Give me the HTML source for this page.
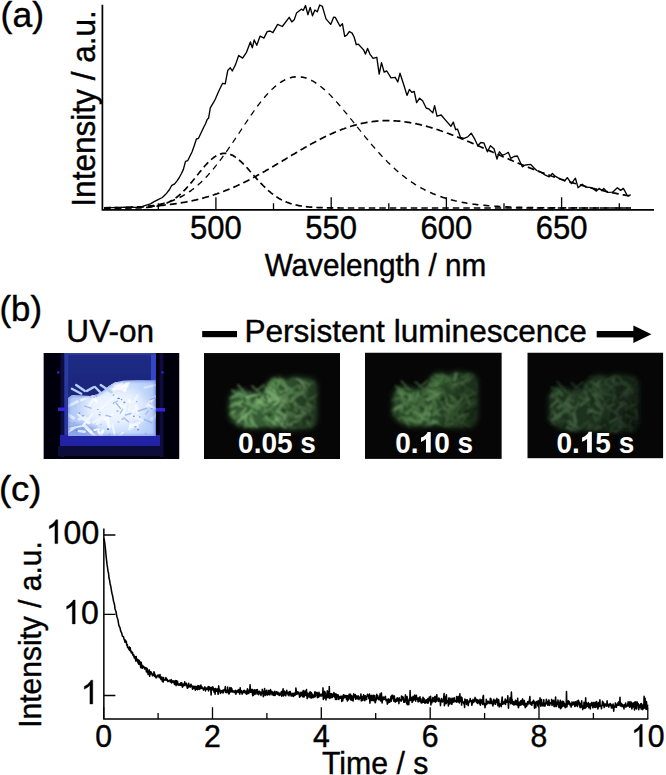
<!DOCTYPE html>
<html><head><meta charset="utf-8"><style>
html,body{margin:0;padding:0;background:#fff;width:666px;height:775px;overflow:hidden}
svg{display:block;font-family:"Liberation Sans",sans-serif}
</style></head><body>
<svg width="666" height="775" viewBox="0 0 666 775">
<defs>
<filter id="bl06" x="-20%" y="-20%" width="140%" height="140%"><feGaussianBlur stdDeviation="0.6"/></filter>
<filter id="bl07" x="-10%" y="-10%" width="120%" height="120%"><feGaussianBlur stdDeviation="0.7"/></filter>
<filter id="bl08" x="-10%" y="-10%" width="120%" height="120%"><feGaussianBlur stdDeviation="0.8"/></filter>
<filter id="bl09" x="-10%" y="-10%" width="120%" height="120%"><feGaussianBlur stdDeviation="0.9"/></filter>
<filter id="bl25" x="-20%" y="-20%" width="140%" height="140%"><feGaussianBlur stdDeviation="2.2"/></filter>
<linearGradient id="glass" x1="0" y1="0" x2="0" y2="1"><stop offset="0" stop-color="#202c86"/><stop offset="1" stop-color="#151f6c"/></linearGradient>
<filter id="bl20" x="-20%" y="-20%" width="140%" height="140%"><feGaussianBlur stdDeviation="2.0"/></filter>
<filter id="bl30" x="-30%" y="-30%" width="160%" height="160%"><feGaussianBlur stdDeviation="3.0"/></filter>
<linearGradient id="fadeR" x1="0" y1="0" x2="1" y2="0.3"><stop offset="0" stop-color="#000" stop-opacity="0"/><stop offset="1" stop-color="#000" stop-opacity="0.5"/></linearGradient>
<linearGradient id="pileV" x1="0" y1="0" x2="1" y2="0"><stop offset="0" stop-color="#7090e0" stop-opacity="0.25"/><stop offset="0.3" stop-color="#fff" stop-opacity="0.1"/><stop offset="0.7" stop-color="#fff" stop-opacity="0.1"/><stop offset="1" stop-color="#7090e0" stop-opacity="0.2"/></linearGradient>
<filter id="bl60" x="-50%" y="-50%" width="200%" height="200%"><feGaussianBlur stdDeviation="6"/></filter>
<filter id="bl05" x="-5%" y="-5%" width="110%" height="110%"><feGaussianBlur stdDeviation="0.5"/></filter>
<filter id="bl10" x="-10%" y="-10%" width="120%" height="120%"><feGaussianBlur stdDeviation="1.0"/></filter>
<clipPath id="cpr1"><rect x="43.4" y="353" width="136.1" height="106"/></clipPath>
<linearGradient id="sideL" x1="0" y1="0" x2="1" y2="0"><stop offset="0" stop-color="#07051a"/><stop offset="1" stop-color="#161060"/></linearGradient>
<linearGradient id="sideR" x1="0" y1="0" x2="1" y2="0"><stop offset="0" stop-color="#161060"/><stop offset="1" stop-color="#07051a"/></linearGradient>
<clipPath id="cp1"><path d="M68 398 L72 395 L80 395.5 L90 396 L97 394.5 L103 391 L109 386 L115 382.5 L123 380.8 L138 380.2 L155.5 380.5 L155.5 436 L68 436Z"/></clipPath>
</defs>
<rect width="666" height="775" fill="#fff"/>
<g transform="translate(0.60,26.60)" fill="#000" stroke="#000" stroke-width="0.4"><text x="0.00" y="0" font-size="35.5">(a)</text></g>
<text transform="translate(94.5,206.7) rotate(-90) scale(1,1.05)" font-size="31.6" stroke="#000" stroke-width="0.4">Intensity / a.u.</text>
<path d="M102.4 4.8V210.7M101.6 209.9H654" stroke="#000" stroke-width="1.7" fill="none"/>
<path d="M215.9 209V197.3M331.2 209V197.3M446.4 209V197.3M561.6 209V197.3M158.3 209V203.2M273.5 209V203.2M388.8 209V203.2M504.0 209V203.2M619.3 209V203.2" stroke="#000" stroke-width="1.3" fill="none"/>
<g transform="translate(190.04,239.00)" fill="#000" stroke="#000" stroke-width="0.4"><text x="0.00" y="0" font-size="31" transform="scale(1,1.06)">500</text></g>
<g transform="translate(305.29,239.00)" fill="#000" stroke="#000" stroke-width="0.4"><text x="0.00" y="0" font-size="31" transform="scale(1,1.06)">550</text></g>
<g transform="translate(420.54,239.00)" fill="#000" stroke="#000" stroke-width="0.4"><text x="0.00" y="0" font-size="31" transform="scale(1,1.06)">600</text></g>
<g transform="translate(535.79,239.00)" fill="#000" stroke="#000" stroke-width="0.4"><text x="0.00" y="0" font-size="31" transform="scale(1,1.06)">650</text></g>
<g transform="translate(264.68,275.60)" fill="#000" stroke="#000" stroke-width="0.4"><text x="0.00" y="0" font-size="29.7" transform="scale(1,1.05)">Wavelength / nm</text></g>
<path d="M104 208l1 0 1 0 1 0 1 0 1 0 1 0 1 0 1 0 1 0 1 0 1 0 1 0 1 0 1 0 1 0 1 0 1 0 1 0 1 0 1 0 1 0 1 0 1 0 1 0 1 0 1 -0.1 1 0 1 0 1 0 1 0 1 0 1 0 1 -0.1 1 0 1 0 1 0 1 -0.1 1 0 1 -0.1 1 0 1 -0.1 1 0 1 -0.1 1 -0.1 1 -0.1 1 -0.1 1 -0.1 1 -0.1 1 -0.2 1 -0.1 1 -0.2 1 -0.1 1 -0.2 1 -0.3 1 -0.2 1 -0.2 1 -0.3 1 -0.3 1 -0.3 1 -0.4 1 -0.3 1 -0.4 1 -0.4 1 -0.5 1 -0.5 1 -0.5 1 -0.5 1 -0.6 1 -0.6 1 -0.7 1 -0.7 1 -0.7 1 -0.7 1 -0.8 1 -0.9 1 -0.8 1 -0.9 1 -1 1 -0.9 1 -1 1 -1 1 -1.1 1 -1.1 1 -1.1 1 -1.1 1 -1.2 1 -1.2 1 -1.2 1 -1.2 1 -1.2 1 -1.3 1 -1.2 1 -1.3 1 -1.2 1 -1.3 1 -1.2 1 -1.2 1 -1.3 1 -1.1 1 -1.2 1 -1.2 1 -1.1 1 -1.1 1 -1 1 -1 1 -1 1 -0.9 1 -0.8 1 -0.8 1 -0.8 1 -0.7 1 -0.6 1 -0.6 1 -0.5 1 -0.4 1 -0.4 1 -0.3 1 -0.2 1 -0.2 1 -0.1 1 0 1 0.1 1 0.1 1 0.2 1 0.2 1 0.4 1 0.4 1 0.4 1 0.5 1 0.6 1 0.7 1 0.6 1 0.8 1 0.8 1 0.8 1 0.9 1 0.9 1 0.9 1 1 1 1 1 1.1 1 1 1 1.1 1 1.1 1 1.1 1 1.2 1 1.1 1 1.1 1 1.2 1 1.1 1 1.1 1 1.1 1 1.2 1 1.1 1 1.1 1 1 1 1.1 1 1 1 1.1 1 1 1 0.9 1 1 1 0.9 1 0.9 1 0.9 1 0.8 1 0.9 1 0.8 1 0.7 1 0.8 1 0.7 1 0.7 1 0.6 1 0.7 1 0.6 1 0.5 1 0.6 1 0.5 1 0.5 1 0.5 1 0.4 1 0.5 1 0.4 1 0.3 1 0.4 1 0.4 1 0.3 1 0.3 1 0.3 1 0.2 1 0.3 1 0.2 1 0.2 1 0.3 1 0.1 1 0.2 1 0.2 1 0.2 1 0.1 1 0.1 1 0.2 1 0.1 1 0.1 1 0.1 1 0.1 1 0.1 1 0 1 0.1 1 0.1 1 0.1 1 0 1 0.1 1 0 1 0.1 1 0 1 0 1 0.1 1 0 1 0 1 0.1 1 0 1 0 1 0 1 0 1 0.1 1 0 1 0 1 0 1 0 1 0 1 0 1 0 1 0 1 0 1 0 1 0.1 1 0 1 0 1 0 1 0 1 0 1 0 1 0 1 0 1 0 1 0 1 0 1 0 1 0 1 0 1 0 1 0 1 0 1 0 1 0 1 0 1 0 1 0 1 0 1 0 1 0 1 0 1 0 1 0 1 0 1 0 1 0 1 0 1 0 1 0 1 0 1 0 1 0 1 0 1 0 1 0 1 0 1 0 1 0 1 0 1 0 1 0 1 0 1 0 1 0 1 0 1 0 1 0 1 0 1 0 1 0 1 0 1 0 1 0 1 0 1 0 1 0 1 0 1 0 1 0 1 0 1 0 1 0 1 0 1 0 1 0 1 0 1 0 1 0 1 0 1 0 1 0 1 0 1 0 1 0 1 0 1 0 1 0 1 0 1 0 1 0 1 0 1 0 1 0 1 0 1 0 1 0 1 0 1 0 1 0 1 0 1 0 1 0 1 0 1 0 1 0 1 0 1 0 1 0 1 0 1 0 1 0 1 0 1 0 1 0 1 0 1 0 1 0 1 0 1 0 1 0 1 0 1 0 1 0 1 0 1 0 1 0 1 0 1 0 1 0 1 0 1 0 1 0 1 0 1 0 1 0 1 0 1 0 1 0 1 0 1 0 1 0 1 0 1 0 1 0 1 0 1 0 1 0 1 0 1 0 1 0 1 0 1 0 1 0 1 0 1 0 1 0 1 0 1 0 1 0 1 0 1 0 1 0 1 0 1 0 1 0 1 0 1 0 1 0 1 0 1 0 1 0 1 0 1 0 1 0 1 0 1 0 1 0 1 0 1 0 1 0 1 0 1 0 1 0 1 0 1 0 1 0 1 0 1 0 1 0 1 0 1 0 1 0 1 0 1 0 1 0 1 0 1 0 1 0 1 0 1 0 1 0 1 0 1 0 1 0 1 0 1 0 1 0 1 0 1 0 1 0 1 0 1 0 1 0 1 0 1 0 1 0 1 0 1 0 1 0 1 0 1 0 1 0 1 0 1 0 1 0 1 0 1 0 1 0 1 0 1 0 1 0 1 0 1 0 1 0 1 0 1 0 1 0 1 0 1 0 1 0 1 0 1 0 1 0 1 0 1 0 1 0 1 0 1 0 1 0 1 0 1 0 1 0 1 0 1 0 1 0 1 0 1 0 1 0 1 0 1 0 1 0 1 0 1 0 1 0 1 0 1 0 1 0 1 0 1 0 1 0 1 0 1 0 1 0 1 0 1 0 1 0 1 0 1 0 1 0 1 0 1 0 1 0 1 0 1 0 1 0 1 0 1 0 1 0 1 0 1 0 1 0 1 0 1 0 1 0 1 0 1 0" stroke="#000" stroke-width="1.7" fill="none" stroke-dasharray="6.5 4"/>
<path d="M104 207.9l1 0 1 0 1 0 1 0 1 0 1 0 1 0 1 0" stroke="#000" stroke-width="1.65" fill="none" stroke-dasharray="6 5" stroke-dashoffset="0.00"/>
<path d="M112 207.9l1 0 1 0 1 0 1 -0.1 1 0 1 0 1 0 1 0" stroke="#000" stroke-width="1.65" fill="none" stroke-dasharray="6 5" stroke-dashoffset="8.00"/>
<path d="M120 207.8l1 0 1 -0.1 1 0 1 0 1 0 1 -0.1 1 0 1 0" stroke="#000" stroke-width="1.65" fill="none" stroke-dasharray="6 5" stroke-dashoffset="16.00"/>
<path d="M128 207.6l1 -0.1 1 0 1 0 1 -0.1 1 0 1 -0.1 1 0 1 -0.1" stroke="#000" stroke-width="1.65" fill="none" stroke-dasharray="6 5" stroke-dashoffset="24.00"/>
<path d="M136 207.2l1 0 1 -0.1 1 -0.1 1 0 1 -0.1 1 -0.1 1 -0.1 1 -0.1" stroke="#000" stroke-width="1.65" fill="none" stroke-dasharray="6 5" stroke-dashoffset="32.01"/>
<path d="M144 206.6l1 -0.1 1 -0.1 1 -0.1 1 -0.1 1 -0.1 1 -0.1 1 -0.2 1 -0.1" stroke="#000" stroke-width="1.64" fill="none" stroke-dasharray="6 5" stroke-dashoffset="40.03"/>
<path d="M152 205.7l1 -0.2 1 -0.1 1 -0.2 1 -0.1 1 -0.2 1 -0.2 1 -0.2 1 -0.2" stroke="#000" stroke-width="1.63" fill="none" stroke-dasharray="6 5" stroke-dashoffset="48.09"/>
<path d="M160 204.3l1 -0.3 1 -0.2 1 -0.2 1 -0.3 1 -0.3 1 -0.2 1 -0.3 1 -0.3" stroke="#000" stroke-width="1.61" fill="none" stroke-dasharray="6 5" stroke-dashoffset="56.22"/>
<path d="M168 202.2l1 -0.4 1 -0.3 1 -0.4 1 -0.3 1 -0.4 1 -0.4 1 -0.4 1 -0.4" stroke="#000" stroke-width="1.58" fill="none" stroke-dasharray="6 5" stroke-dashoffset="64.50"/>
<path d="M176 199.2l1 -0.5 1 -0.4 1 -0.5 1 -0.5 1 -0.5 1 -0.6 1 -0.5 1 -0.6" stroke="#000" stroke-width="1.53" fill="none" stroke-dasharray="6 5" stroke-dashoffset="73.04"/>
<path d="M184 195.1l1 -0.6 1 -0.6 1 -0.6 1 -0.7 1 -0.6 1 -0.7 1 -0.7 1 -0.8" stroke="#000" stroke-width="1.47" fill="none" stroke-dasharray="6 5" stroke-dashoffset="82.01"/>
<path d="M192 189.8l1 -0.7 1 -0.8 1 -0.8 1 -0.8 1 -0.9 1 -0.8 1 -0.9 1 -0.9" stroke="#000" stroke-width="1.40" fill="none" stroke-dasharray="6 5" stroke-dashoffset="91.60"/>
<path d="M200 183.2l1 -0.9 1 -1 1 -1 1 -1 1 -1 1 -1 1 -1.1 1 -1.1" stroke="#000" stroke-width="1.35" fill="none" stroke-dasharray="6 5" stroke-dashoffset="102.01"/>
<path d="M208 175.1l1 -1.1 1 -1.1 1 -1.2 1 -1.1 1 -1.2 1 -1.2 1 -1.3 1 -1.2" stroke="#000" stroke-width="1.30" fill="none" stroke-dasharray="6 5" stroke-dashoffset="113.38"/>
<path d="M216 165.7l1 -1.3 1 -1.3 1 -1.3 1 -1.3 1 -1.3 1 -1.4 1 -1.4 1 -1.3" stroke="#000" stroke-width="1.27" fill="none" stroke-dasharray="6 5" stroke-dashoffset="125.75"/>
<path d="M224 155.1l1 -1.4 1 -1.5 1 -1.4 1 -1.4 1 -1.5 1 -1.4 1 -1.5 1 -1.5" stroke="#000" stroke-width="1.25" fill="none" stroke-dasharray="6 5" stroke-dashoffset="139.05"/>
<path d="M232 143.5l1 -1.4 1 -1.5 1 -1.5 1 -1.5 1 -1.5 1 -1.5 1 -1.5 1 -1.5" stroke="#000" stroke-width="1.23" fill="none" stroke-dasharray="6 5" stroke-dashoffset="153.07"/>
<path d="M240 131.6l1 -1.5 1 -1.6 1 -1.5 1 -1.5 1 -1.5 1 -1.4 1 -1.5 1 -1.5" stroke="#000" stroke-width="1.24" fill="none" stroke-dasharray="6 5" stroke-dashoffset="167.48"/>
<path d="M248 119.6l1 -1.5 1 -1.4 1 -1.5 1 -1.4 1 -1.4 1 -1.4 1 -1.4 1 -1.4" stroke="#000" stroke-width="1.25" fill="none" stroke-dasharray="6 5" stroke-dashoffset="181.87"/>
<path d="M256 108.2l1 -1.3 1 -1.4 1 -1.3 1 -1.3 1 -1.3 1 -1.2 1 -1.2 1 -1.2" stroke="#000" stroke-width="1.28" fill="none" stroke-dasharray="6 5" stroke-dashoffset="195.78"/>
<path d="M264 98l1 -1.2 1 -1.2 1 -1.1 1 -1.1 1 -1.1 1 -1 1 -1 1 -1" stroke="#000" stroke-width="1.33" fill="none" stroke-dasharray="6 5" stroke-dashoffset="208.80"/>
<path d="M272 89.3l1 -0.9 1 -0.9 1 -0.9 1 -0.8 1 -0.8 1 -0.8 1 -0.8 1 -0.7" stroke="#000" stroke-width="1.41" fill="none" stroke-dasharray="6 5" stroke-dashoffset="220.57"/>
<path d="M280 82.7l1 -0.6 1 -0.6 1 -0.6 1 -0.6 1 -0.5 1 -0.5 1 -0.4 1 -0.4" stroke="#000" stroke-width="1.52" fill="none" stroke-dasharray="6 5" stroke-dashoffset="230.94"/>
<path d="M288 78.5l1 -0.3 1 -0.4 1 -0.2 1 -0.3 1 -0.2 1 -0.1 1 -0.1 1 -0.1" stroke="#000" stroke-width="1.62" fill="none" stroke-dasharray="6 5" stroke-dashoffset="240.01"/>
<path d="M296 76.8l1 -0.1 1 0 1 0.1 1 0.1 1 0.1 1 0.1 1 0.2 1 0.2" stroke="#000" stroke-width="1.64" fill="none" stroke-dasharray="6 5" stroke-dashoffset="248.22"/>
<path d="M304 77.5l1 0.3 1 0.3 1 0.4 1 0.3 1 0.4 1 0.5 1 0.5 1 0.5" stroke="#000" stroke-width="1.57" fill="none" stroke-dasharray="6 5" stroke-dashoffset="256.29"/>
<path d="M312 80.7l1 0.5 1 0.6 1 0.6 1 0.7 1 0.6 1 0.7 1 0.8 1 0.7" stroke="#000" stroke-width="1.47" fill="none" stroke-dasharray="6 5" stroke-dashoffset="264.90"/>
<path d="M320 85.9l1 0.8 1 0.8 1 0.9 1 0.8 1 0.9 1 0.9 1 1 1 0.9" stroke="#000" stroke-width="1.39" fill="none" stroke-dasharray="6 5" stroke-dashoffset="274.48"/>
<path d="M328 92.9l1 1 1 1 1 1 1 1.1 1 1 1 1.1 1 1.1 1 1.1" stroke="#000" stroke-width="1.34" fill="none" stroke-dasharray="6 5" stroke-dashoffset="285.11"/>
<path d="M336 101.3l1 1.1 1 1.1 1 1.2 1 1.1 1 1.2 1 1.2 1 1.2 1 1.2" stroke="#000" stroke-width="1.30" fill="none" stroke-dasharray="6 5" stroke-dashoffset="296.69"/>
<path d="M344 110.6l1 1.2 1 1.2 1 1.2 1 1.3 1 1.2 1 1.2 1 1.3 1 1.2" stroke="#000" stroke-width="1.29" fill="none" stroke-dasharray="6 5" stroke-dashoffset="308.96"/>
<path d="M352 120.4l1 1.3 1 1.2 1 1.3 1 1.2 1 1.3 1 1.2 1 1.3 1 1.2" stroke="#000" stroke-width="1.28" fill="none" stroke-dasharray="6 5" stroke-dashoffset="321.64"/>
<path d="M360 130.4l1 1.2 1 1.3 1 1.2 1 1.2 1 1.3 1 1.2 1 1.2 1 1.2" stroke="#000" stroke-width="1.29" fill="none" stroke-dasharray="6 5" stroke-dashoffset="334.43"/>
<path d="M368 140.2l1 1.2 1 1.2 1 1.2 1 1.2 1 1.1 1 1.2 1 1.1 1 1.2" stroke="#000" stroke-width="1.30" fill="none" stroke-dasharray="6 5" stroke-dashoffset="347.08"/>
<path d="M376 149.6l1 1.1 1 1.1 1 1.1 1 1.1 1 1.1 1 1.1 1 1 1 1.1" stroke="#000" stroke-width="1.32" fill="none" stroke-dasharray="6 5" stroke-dashoffset="359.40"/>
<path d="M384 158.3l1 1 1 1 1 1.1 1 1 1 0.9 1 1 1 1 1 0.9" stroke="#000" stroke-width="1.35" fill="none" stroke-dasharray="6 5" stroke-dashoffset="371.23"/>
<path d="M392 166.2l1 1 1 0.9 1 0.9 1 0.9 1 0.9 1 0.8 1 0.9 1 0.8" stroke="#000" stroke-width="1.39" fill="none" stroke-dasharray="6 5" stroke-dashoffset="382.50"/>
<path d="M400 173.3l1 0.8 1 0.8 1 0.8 1 0.8 1 0.8 1 0.8 1 0.7 1 0.7" stroke="#000" stroke-width="1.42" fill="none" stroke-dasharray="6 5" stroke-dashoffset="393.19"/>
<path d="M408 179.5l1 0.7 1 0.7 1 0.7 1 0.7 1 0.7 1 0.6 1 0.7 1 0.6" stroke="#000" stroke-width="1.46" fill="none" stroke-dasharray="6 5" stroke-dashoffset="403.32"/>
<path d="M416 184.9l1 0.6 1 0.6 1 0.6 1 0.6 1 0.5 1 0.6 1 0.5 1 0.5" stroke="#000" stroke-width="1.50" fill="none" stroke-dasharray="6 5" stroke-dashoffset="412.96"/>
<path d="M424 189.4l1 0.6 1 0.5 1 0.4 1 0.5 1 0.5 1 0.5 1 0.4 1 0.4" stroke="#000" stroke-width="1.54" fill="none" stroke-dasharray="6 5" stroke-dashoffset="422.16"/>
<path d="M432 193.2l1 0.5 1 0.4 1 0.4 1 0.4 1 0.4 1 0.4 1 0.3 1 0.4" stroke="#000" stroke-width="1.57" fill="none" stroke-dasharray="6 5" stroke-dashoffset="431.02"/>
<path d="M440 196.4l1 0.3 1 0.4 1 0.3 1 0.3 1 0.3 1 0.4 1 0.3 1 0.2" stroke="#000" stroke-width="1.59" fill="none" stroke-dasharray="6 5" stroke-dashoffset="439.62"/>
<path d="M448 198.9l1 0.3 1 0.3 1 0.3 1 0.2 1 0.3 1 0.2 1 0.3 1 0.2" stroke="#000" stroke-width="1.61" fill="none" stroke-dasharray="6 5" stroke-dashoffset="448.02"/>
<path d="M456 201l1 0.2 1 0.2 1 0.3 1 0.2 1 0.2 1 0.2 1 0.2 1 0.1" stroke="#000" stroke-width="1.63" fill="none" stroke-dasharray="6 5" stroke-dashoffset="456.28"/>
<path d="M464 202.6l1 0.2 1 0.2 1 0.2 1 0.1 1 0.2 1 0.1 1 0.2 1 0.1" stroke="#000" stroke-width="1.63" fill="none" stroke-dasharray="6 5" stroke-dashoffset="464.45"/>
<path d="M472 203.9l1 0.2 1 0.1 1 0.1 1 0.2 1 0.1 1 0.1 1 0.1 1 0.1" stroke="#000" stroke-width="1.64" fill="none" stroke-dasharray="6 5" stroke-dashoffset="472.55"/>
<path d="M480 204.9l1 0.1 1 0.1 1 0.1 1 0.1 1 0.1 1 0.1 1 0.1 1 0.1" stroke="#000" stroke-width="1.64" fill="none" stroke-dasharray="6 5" stroke-dashoffset="480.61"/>
<path d="M488 205.7l1 0.1 1 0.1 1 0 1 0.1 1 0.1 1 0.1 1 0 1 0.1" stroke="#000" stroke-width="1.65" fill="none" stroke-dasharray="6 5" stroke-dashoffset="488.65"/>
<path d="M496 206.3l1 0.1 1 0 1 0.1 1 0 1 0.1 1 0 1 0.1 1 0" stroke="#000" stroke-width="1.65" fill="none" stroke-dasharray="6 5" stroke-dashoffset="496.67"/>
<path d="M504 206.7l1 0.1 1 0 1 0.1 1 0 1 0.1 1 0 1 0 1 0.1" stroke="#000" stroke-width="1.65" fill="none" stroke-dasharray="6 5" stroke-dashoffset="504.69"/>
<path d="M512 207.1l1 0 1 0.1 1 0 1 0 1 0 1 0.1 1 0 1 0" stroke="#000" stroke-width="1.65" fill="none" stroke-dasharray="6 5" stroke-dashoffset="512.69"/>
<path d="M520 207.3l1 0.1 1 0 1 0 1 0 1 0.1 1 0 1 0 1 0" stroke="#000" stroke-width="1.65" fill="none" stroke-dasharray="6 5" stroke-dashoffset="520.70"/>
<path d="M528 207.5l1 0 1 0.1 1 0 1 0 1 0 1 0 1 0 1 0.1" stroke="#000" stroke-width="1.65" fill="none" stroke-dasharray="6 5" stroke-dashoffset="528.70"/>
<path d="M536 207.7l1 0 1 0 1 0 1 0 1 0 1 0 1 0 1 0.1" stroke="#000" stroke-width="1.65" fill="none" stroke-dasharray="6 5" stroke-dashoffset="536.70"/>
<path d="M544 207.8l1 0 1 0 1 0 1 0 1 0 1 0 1 0 1 0" stroke="#000" stroke-width="1.65" fill="none" stroke-dasharray="6 5" stroke-dashoffset="544.70"/>
<path d="M552 207.8l1 0 1 0 1 0 1 0.1 1 0 1 0 1 0 1 0" stroke="#000" stroke-width="1.65" fill="none" stroke-dasharray="6 5" stroke-dashoffset="552.70"/>
<path d="M560 207.9l1 0 1 0 1 0 1 0 1 0 1 0 1 0 1 0" stroke="#000" stroke-width="1.65" fill="none" stroke-dasharray="6 5" stroke-dashoffset="560.70"/>
<path d="M568 207.9l1 0 1 0 1 0 1 0 1 0 1 0 1 0 1 0" stroke="#000" stroke-width="1.65" fill="none" stroke-dasharray="6 5" stroke-dashoffset="568.70"/>
<path d="M576 207.9l1 0 1 0 1 0 1 0 1 0.1 1 0 1 0 1 0" stroke="#000" stroke-width="1.65" fill="none" stroke-dasharray="6 5" stroke-dashoffset="576.70"/>
<path d="M584 208l1 0 1 0 1 0 1 0 1 0 1 0 1 0 1 0" stroke="#000" stroke-width="1.65" fill="none" stroke-dasharray="6 5" stroke-dashoffset="584.70"/>
<path d="M592 208l1 0 1 0 1 0 1 0 1 0 1 0 1 0 1 0" stroke="#000" stroke-width="1.65" fill="none" stroke-dasharray="6 5" stroke-dashoffset="592.70"/>
<path d="M600 208l1 0 1 0 1 0 1 0 1 0 1 0 1 0 1 0" stroke="#000" stroke-width="1.65" fill="none" stroke-dasharray="6 5" stroke-dashoffset="600.70"/>
<path d="M608 208l1 0 1 0 1 0 1 0 1 0 1 0 1 0 1 0" stroke="#000" stroke-width="1.65" fill="none" stroke-dasharray="6 5" stroke-dashoffset="608.70"/>
<path d="M616 208l1 0 1 0 1 0 1 0 1 0 1 0 1 0 1 0" stroke="#000" stroke-width="1.65" fill="none" stroke-dasharray="6 5" stroke-dashoffset="616.70"/>
<path d="M624 208l1 0 1 0 1 0 1 0 1 0 1 0 1 0" stroke="#000" stroke-width="1.65" fill="none" stroke-dasharray="6 5" stroke-dashoffset="624.70"/>
<path d="M104 207.8l1 0 1 0 1 0 1 0 1 0 1 -0.1 1 0 1 0 1 0 1 0 1 0 1 0 1 -0.1 1 0 1 0 1 0 1 0 1 -0.1 1 0 1 0 1 0 1 -0.1 1 0 1 0 1 -0.1 1 0 1 0 1 -0.1 1 0 1 0 1 -0.1 1 0 1 -0.1 1 0 1 0 1 -0.1 1 0 1 -0.1 1 0 1 -0.1 1 0 1 -0.1 1 -0.1 1 0 1 -0.1 1 -0.1 1 0 1 -0.1 1 -0.1 1 0 1 -0.1 1 -0.1 1 -0.1 1 -0.1 1 -0.1 1 -0.1 1 0 1 -0.1 1 -0.1 1 -0.2 1 -0.1 1 -0.1 1 -0.1 1 -0.1 1 -0.1 1 -0.1 1 -0.2 1 -0.1 1 -0.1 1 -0.2 1 -0.1 1 -0.2 1 -0.1 1 -0.2 1 -0.1 1 -0.2 1 -0.1 1 -0.2 1 -0.2 1 -0.2 1 -0.1 1 -0.2 1 -0.2 1 -0.2 1 -0.2 1 -0.2 1 -0.2 1 -0.2 1 -0.3 1 -0.2 1 -0.2 1 -0.2 1 -0.3 1 -0.2 1 -0.3 1 -0.2 1 -0.3 1 -0.2 1 -0.3 1 -0.3 1 -0.3 1 -0.3 1 -0.2 1 -0.3 1 -0.3 1 -0.3 1 -0.4 1 -0.3 1 -0.3 1 -0.3 1 -0.4 1 -0.3 1 -0.3 1 -0.4 1 -0.3 1 -0.4 1 -0.4 1 -0.3 1 -0.4 1 -0.4 1 -0.4 1 -0.4 1 -0.4 1 -0.4 1 -0.4 1 -0.4 1 -0.4 1 -0.5 1 -0.4 1 -0.4 1 -0.5 1 -0.4 1 -0.5 1 -0.4 1 -0.5 1 -0.5 1 -0.5 1 -0.4 1 -0.5 1 -0.5 1 -0.5 1 -0.5 1 -0.5 1 -0.5 1 -0.5 1 -0.5 1 -0.6 1 -0.5 1 -0.5 1 -0.5 1 -0.6 1 -0.5 1 -0.6 1 -0.5 1 -0.6 1 -0.5 1 -0.6 1 -0.5 1 -0.6 1 -0.6 1 -0.5 1 -0.6 1 -0.6 1 -0.6 1 -0.5 1 -0.6 1 -0.6 1 -0.6 1 -0.6 1 -0.6 1 -0.6 1 -0.6 1 -0.6 1 -0.5 1 -0.6 1 -0.6 1 -0.6 1 -0.6 1 -0.6 1 -0.6 1 -0.6 1 -0.6 1 -0.7 1 -0.6 1 -0.6 1 -0.6 1 -0.6 1 -0.6 1 -0.6 1 -0.5 1 -0.6 1 -0.6 1 -0.6 1 -0.6 1 -0.6 1 -0.6 1 -0.6 1 -0.6 1 -0.5 1 -0.6 1 -0.6 1 -0.6 1 -0.5 1 -0.6 1 -0.6 1 -0.5 1 -0.6 1 -0.5 1 -0.6 1 -0.5 1 -0.6 1 -0.5 1 -0.5 1 -0.6 1 -0.5 1 -0.5 1 -0.5 1 -0.5 1 -0.5 1 -0.5 1 -0.5 1 -0.5 1 -0.5 1 -0.4 1 -0.5 1 -0.5 1 -0.4 1 -0.5 1 -0.4 1 -0.5 1 -0.4 1 -0.4 1 -0.4 1 -0.4 1 -0.4 1 -0.4 1 -0.4 1 -0.4 1 -0.4 1 -0.3 1 -0.4 1 -0.3 1 -0.4 1 -0.3 1 -0.4 1 -0.3 1 -0.3 1 -0.3 1 -0.3 1 -0.3 1 -0.3 1 -0.2 1 -0.3 1 -0.2 1 -0.3 1 -0.2 1 -0.3 1 -0.2 1 -0.2 1 -0.2 1 -0.2 1 -0.2 1 -0.2 1 -0.1 1 -0.2 1 -0.1 1 -0.2 1 -0.1 1 -0.2 1 -0.1 1 -0.1 1 -0.1 1 -0.1 1 -0.1 1 -0.1 1 0 1 -0.1 1 0 1 -0.1 1 0 1 0 1 -0.1 1 0 1 0 1 0 1 0.1 1 0 1 0 1 0 1 0.1 1 0.1 1 0 1 0.1 1 0.1 1 0.1 1 0 1 0.1 1 0.2 1 0.1 1 0.1 1 0.1 1 0.2 1 0.1 1 0.2 1 0.1 1 0.2 1 0.2 1 0.2 1 0.1 1 0.2 1 0.2 1 0.2 1 0.3 1 0.2 1 0.2 1 0.2 1 0.3 1 0.2 1 0.3 1 0.2 1 0.3 1 0.3 1 0.2 1 0.3 1 0.3 1 0.3 1 0.3 1 0.3 1 0.3 1 0.3 1 0.3 1 0.4 1 0.3 1 0.3 1 0.3 1 0.4 1 0.3 1 0.4 1 0.3 1 0.4 1 0.3 1 0.4 1 0.4 1 0.3 1 0.4 1 0.4 1 0.4 1 0.4 1 0.3 1 0.4 1 0.4 1 0.4 1 0.4 1 0.4 1 0.4 1 0.4 1 0.4 1 0.5 1 0.4 1 0.4 1 0.4 1 0.4 1 0.4 1 0.5 1 0.4 1 0.4 1 0.4 1 0.5 1 0.4 1 0.4 1 0.5 1 0.4 1 0.4 1 0.5 1 0.4 1 0.4 1 0.5 1 0.4 1 0.5 1 0.4 1 0.4 1 0.5 1 0.4 1 0.5 1 0.4 1 0.4 1 0.5 1 0.4 1 0.5 1 0.4 1 0.5 1 0.4 1 0.4 1 0.5 1 0.4 1 0.4 1 0.5 1 0.4 1 0.5 1 0.4 1 0.4 1 0.5 1 0.4 1 0.4 1 0.5 1 0.4 1 0.4 1 0.4 1 0.5 1 0.4 1 0.4 1 0.4 1 0.5 1 0.4 1 0.4 1 0.4 1 0.4 1 0.4 1 0.4 1 0.4 1 0.5 1 0.4 1 0.4 1 0.4 1 0.4 1 0.4 1 0.4 1 0.3 1 0.4 1 0.4 1 0.4 1 0.4 1 0.4 1 0.4 1 0.3 1 0.4 1 0.4 1 0.4 1 0.3 1 0.4 1 0.4 1 0.3 1 0.4 1 0.4 1 0.3 1 0.4 1 0.3 1 0.4 1 0.3 1 0.4 1 0.3 1 0.3 1 0.4 1 0.3 1 0.3 1 0.4 1 0.3 1 0.3 1 0.3 1 0.4 1 0.3 1 0.3 1 0.3 1 0.3 1 0.3 1 0.3 1 0.3 1 0.3 1 0.3 1 0.3 1 0.3 1 0.3 1 0.3 1 0.3 1 0.3 1 0.2 1 0.3 1 0.3 1 0.3 1 0.2 1 0.3 1 0.3 1 0.2 1 0.3 1 0.3 1 0.2 1 0.3 1 0.2 1 0.3 1 0.2 1 0.3 1 0.2 1 0.2 1 0.3 1 0.2 1 0.2 1 0.3 1 0.2 1 0.2 1 0.2 1 0.3 1 0.2 1 0.2 1 0.2 1 0.2 1 0.2 1 0.2 1 0.2 1 0.2 1 0.2 1 0.2 1 0.2 1 0.2 1 0.2 1 0.2 1 0.2 1 0.2 1 0.2 1 0.2 1 0.1 1 0.2 1 0.2 1 0.2 1 0.1 1 0.2 1 0.2 1 0.1" stroke="#000" stroke-width="1.7" fill="none" stroke-dasharray="7 4"/>
<path d="M104 207.6l4 -0.2 4 0.3 4 -0.4 4 0.3 4 -0.4 4 0.3 4 -0.4 4 0.2 4 -0.4 3.5 -0.7 3.7 -1.4 3.3 -1 3.2 -1.9 4.4 -2.2 4.3 -2.2 4.3 -4.3 2.8 -3.7 2.3 -4.2 2.9 -1.5 2.3 -3 2 -2.8 2.5 -4.5 1.9 -4.1 2.1 -8 2.2 -0.7 2.3 -4.7 2 -4 2.3 -6.5 2.1 -6.5 2.1 -0.7 2.5 -5.3 2.6 -5.5 1.9 -3.7 1.7 -4.3 1.4 -1.4 1.7 -10.3 3.4 -5.6 1.8 -3.4 2 -4.8 1.9 -4.3 3.2 -6.4 2.6 0.6 2.6 -13.5 2.5 -2.6 2 3.2 3.2 -6.4 3.2 -9.1 3.9 2.6 3.9 -5.8 3.9 -10.3 1.9 5.8 1.9 -7.8 2.6 5.2 3.3 -9.1 3.8 2 3.3 -6.5 2.8 -0.6 2.9 1.6 4.7 -8.2 4.7 2.1 6.9 -9.2 2.6 4.6 2.6 -2.5 2.1 -6.3 4.8 -3.9 2.1 1.1 2.1 -4.8 2.4 9.2 2.3 -7.3 2.3 8.4 2.4 -5.8 2.4 1.8 2.4 -6.8 2.6 1.3 3.7 12.6 4.7 5.5 3 -7.3 1.6 0.3 4.7 8.9 2.4 -2.6 2.3 12.6 2.1 -1.1 2.6 -3.7 2.7 1.6 2.1 4.2 2.1 7.4 2.1 -0.5 5.2 5.7 1.9 4.2 2.1 -5.7 2.3 5.7 3.2 4.2 3.7 -1 2.4 16.8 2.3 -11.5 2.6 9.4 2.7 -1 4.2 6.8 4.2 -0.5 2.6 4.7 2.2 -8.8 3.5 10.8 3.5 11.4 2.4 -6 2.4 3 2.4 -0.9 2.4 11.1 3 -4.4 3 2.6 3.6 7.2 3 1.2 3.6 3.7 1.8 -7.3 2.4 10.6 4.2 -1.2 4.3 5.1 5.4 6.2 2.4 -4.1 2.4 7.5 1.8 -0.6 3 8.4 3.6 0.8 3.6 -1.4 3.5 -3.7 3.6 6 3 6.6 3 -3.3 3 0.3 3.6 9 3 -6 3.6 3 3 10.2 2.4 -7.2 3 3.6 3 -1.4 3 -1.6 2.4 6 3.2 -1.9 3.4 -0.5 4.9 10.8 3 -1.8 5.4 -0.6 2.8 3.1 3.2 3 5.4 2.4 2.9 2 4.1 2 3.3 -3.4 2.7 2.7 4.8 2.7 4.7 2.1 2.7 -3.4 4.1 6 4 -5.4 2.7 9.5 4.1 -3.4 3.3 2.7 6.1 0.7 4.8 3.4 2.7 -2.7 2.7 2 2 -2 3.4 4 5.4 -0.2 4.7 -4.5 3.4 2.7 2.7 -2 4 7.4 3.4 -0.9" stroke="#000" stroke-width="1.35" fill="none" stroke-linejoin="round"/>
<g transform="translate(-0.50,321.00)" fill="#000" stroke="#000" stroke-width="0.4"><text x="0.00" y="0" font-size="34.8" transform="scale(1,0.99)">(b)</text></g>
<g transform="translate(66.37,341.80)" fill="#000" stroke="#000" stroke-width="0.4"><text x="0.00" y="0" font-size="31.6" transform="scale(1,1.01)">UV-on</text></g>
<rect x="202.2" y="331" width="34.8" height="6.2" fill="#000"/>
<g transform="translate(244.41,342.00)" fill="#000" stroke="#000" stroke-width="0.4"><text x="0.00" y="0" font-size="31.6" transform="scale(1,1.02)">Persistent luminescence</text></g>
<rect x="596.7" y="331" width="38" height="6.4" fill="#000"/><path d="M633.4 325.6L651.4 334.2L633.4 342.9Z" fill="#000"/>
<g clip-path="url(#cpr1)"><g filter="url(#bl05)">
<rect x="43.4" y="353" width="136.1" height="106" fill="#030208"/>
<rect x="60.5" y="353" width="4" height="104" fill="#0e0b48" filter="url(#bl10)"/>
<rect x="159.5" y="353" width="4" height="104" fill="#0e0b48" filter="url(#bl10)"/>
<rect x="64.5" y="353" width="91" height="84" fill="url(#glass)"/>
<rect x="64.3" y="353" width="4" height="84" fill="#3040b0" opacity="0.75"/>
<rect x="151" y="353" width="5" height="84" fill="#3848d0" opacity="0.9"/>
<rect x="64.5" y="353" width="91" height="1.8" fill="#30409c"/>
<rect x="60" y="435" width="100" height="11" fill="#2424a4"/>
<rect x="58" y="446" width="104" height="10" fill="#0c0a3a"/>
<rect x="58" y="407.5" width="8" height="3.5" fill="#3026dc"/>
<rect x="155" y="408" width="10" height="3.5" fill="#3026dc"/>
<circle cx="58.3" cy="372.4" r="1.3" fill="#2828c0"/><circle cx="162.4" cy="372.4" r="1.3" fill="#2828c0"/>
<path d="M68 398 L72 395 L80 395.5 L90 396 L97 394.5 L103 391 L109 386 L115 382.5 L123 380.8 L138 380.2 L155.5 380.5 L155.5 436 L68 436Z" fill="#bcd4fb"/>
<g clip-path="url(#cp1)">
<ellipse cx="82" cy="430" rx="16" ry="6" fill="#7e9ae4" filter="url(#bl25)"/>
<ellipse cx="116" cy="408" rx="34" ry="20" fill="#f2f8ff" opacity="0.85" filter="url(#bl60)"/>
<path d="M155.2 396.5L146.8 406.3" stroke="#f6faff" stroke-width="3.0" stroke-linecap="round"/><path d="M98.5 431.3L101.6 437.8" stroke="#fafcff" stroke-width="2.4" stroke-linecap="round"/><path d="M75.1 427.3L66.3 433.3" stroke="#f6faff" stroke-width="2.2" stroke-linecap="round"/><path d="M110.1 400.9L115.2 403.1" stroke="#e2efff" stroke-width="2.9" stroke-linecap="round"/><path d="M129.5 400.6L124.0 414.2" stroke="#fafcff" stroke-width="3.1" stroke-linecap="round"/><path d="M133.6 398.6L140.6 405.3" stroke="#e2efff" stroke-width="2.7" stroke-linecap="round"/><path d="M105.2 405.0L100.8 408.9" stroke="#f6faff" stroke-width="1.7" stroke-linecap="round"/><path d="M84.7 417.2L89.3 422.3" stroke="#eef6ff" stroke-width="3.1" stroke-linecap="round"/><path d="M106.7 421.7L109.9 426.0" stroke="#e2efff" stroke-width="3.1" stroke-linecap="round"/><path d="M84.3 418.0L79.1 418.9" stroke="#eef6ff" stroke-width="3.0" stroke-linecap="round"/><path d="M131.8 415.1L142.0 420.3" stroke="#eef6ff" stroke-width="3.1" stroke-linecap="round"/><path d="M106.8 418.2L109.1 426.5" stroke="#f6faff" stroke-width="3.2" stroke-linecap="round"/><path d="M84.4 425.7L91.5 432.3" stroke="#e2efff" stroke-width="3.0" stroke-linecap="round"/><path d="M127.2 386.2L115.2 389.1" stroke="#eef6ff" stroke-width="2.7" stroke-linecap="round"/><path d="M113.7 382.5L104.2 388.5" stroke="#e2efff" stroke-width="1.9" stroke-linecap="round"/><path d="M157.8 409.8L153.0 419.5" stroke="#eef6ff" stroke-width="1.8" stroke-linecap="round"/><path d="M125.9 403.0L117.0 404.8" stroke="#eef6ff" stroke-width="3.0" stroke-linecap="round"/><path d="M105.3 417.3L96.7 424.0" stroke="#eef6ff" stroke-width="1.7" stroke-linecap="round"/><path d="M126.4 383.8L124.8 390.9" stroke="#fafcff" stroke-width="2.7" stroke-linecap="round"/><path d="M93.9 398.5L89.5 405.3" stroke="#f6faff" stroke-width="2.2" stroke-linecap="round"/><path d="M160.1 414.4L151.4 418.8" stroke="#e2efff" stroke-width="3.1" stroke-linecap="round"/><path d="M149.2 405.4L159.0 410.3" stroke="#fafcff" stroke-width="2.5" stroke-linecap="round"/><path d="M91.7 394.4L96.5 401.5" stroke="#fafcff" stroke-width="3.1" stroke-linecap="round"/><path d="M130.9 424.5L137.6 426.4" stroke="#eef6ff" stroke-width="3.1" stroke-linecap="round"/><path d="M97.0 383.6L100.1 391.2" stroke="#e2efff" stroke-width="1.8" stroke-linecap="round"/><path d="M116.8 395.0L106.4 403.6" stroke="#eef6ff" stroke-width="2.3" stroke-linecap="round"/><path d="M92.3 414.3L82.9 425.7" stroke="#f6faff" stroke-width="2.2" stroke-linecap="round"/><path d="M77.4 386.3L74.1 394.3" stroke="#fafcff" stroke-width="2.9" stroke-linecap="round"/><path d="M81.2 426.1L69.3 428.6" stroke="#eef6ff" stroke-width="1.9" stroke-linecap="round"/><path d="M120.2 405.1L129.8 409.8" stroke="#f6faff" stroke-width="1.8" stroke-linecap="round"/><path d="M128.1 403.5L124.6 417.9" stroke="#e2efff" stroke-width="2.2" stroke-linecap="round"/><path d="M77.9 414.3L88.4 423.3" stroke="#f6faff" stroke-width="2.0" stroke-linecap="round"/><path d="M86.3 428.7L96.7 438.5" stroke="#eef6ff" stroke-width="1.6" stroke-linecap="round"/><path d="M103.1 430.6L98.9 439.8" stroke="#f6faff" stroke-width="2.8" stroke-linecap="round"/><path d="M123.1 432.7L116.8 437.9" stroke="#f6faff" stroke-width="1.7" stroke-linecap="round"/><path d="M135.5 425.1L129.2 429.0" stroke="#e2efff" stroke-width="3.0" stroke-linecap="round"/><path d="M78.8 431.0L84.7 431.8" stroke="#e2efff" stroke-width="2.5" stroke-linecap="round"/><path d="M112.4 424.1L114.7 435.6" stroke="#eef6ff" stroke-width="2.1" stroke-linecap="round"/><path d="M156.2 384.9L144.7 387.6" stroke="#e2efff" stroke-width="2.4" stroke-linecap="round"/><path d="M77.4 401.6L68.1 406.2" stroke="#f6faff" stroke-width="2.8" stroke-linecap="round"/><path d="M88.3 397.1L81.2 400.2" stroke="#f6faff" stroke-width="2.4" stroke-linecap="round"/><path d="M99.3 429.0L94.2 430.1" stroke="#fafcff" stroke-width="1.6" stroke-linecap="round"/><path d="M63.0 411.7L73.4 418.0" stroke="#fafcff" stroke-width="3.2" stroke-linecap="round"/><path d="M138.3 409.5L132.9 410.9" stroke="#fafcff" stroke-width="1.8" stroke-linecap="round"/><path d="M128.5 383.0L119.7 388.5" stroke="#fafcff" stroke-width="2.8" stroke-linecap="round"/><path d="M137.6 395.6L132.8 402.9" stroke="#eef6ff" stroke-width="2.6" stroke-linecap="round"/><path d="M103.1 417.1L93.1 422.5" stroke="#eef6ff" stroke-width="2.1" stroke-linecap="round"/><path d="M139.4 422.8L130.2 426.6" stroke="#f6faff" stroke-width="2.8" stroke-linecap="round"/><path d="M113.6 381.2L118.4 384.5" stroke="#f6faff" stroke-width="2.6" stroke-linecap="round"/><path d="M121.5 383.4L113.8 389.3" stroke="#f6faff" stroke-width="3.1" stroke-linecap="round"/><path d="M90.7 431.6L98.0 438.0" stroke="#fafcff" stroke-width="1.7" stroke-linecap="round"/><path d="M111.2 383.3L123.8 390.1" stroke="#f6faff" stroke-width="2.4" stroke-linecap="round"/><path d="M136.1 405.8L137.4 412.8" stroke="#fafcff" stroke-width="3.1" stroke-linecap="round"/><path d="M113.9 402.2L120.0 405.7" stroke="#f6faff" stroke-width="1.9" stroke-linecap="round"/><path d="M112.6 414.0L104.9 419.4" stroke="#fafcff" stroke-width="1.7" stroke-linecap="round"/>
<path d="M94.7 391.8L96.4 396.4" stroke="#94b2ee" stroke-width="1.2" stroke-linecap="round"/><path d="M123.9 417.8L128.6 421.9" stroke="#94b2ee" stroke-width="1.3" stroke-linecap="round"/><path d="M154.6 397.8L150.4 399.6" stroke="#9cb8ee" stroke-width="1.4" stroke-linecap="round"/><path d="M88.7 381.8L81.8 386.2" stroke="#9cb8ee" stroke-width="1.2" stroke-linecap="round"/><path d="M80.3 385.7L84.4 386.1" stroke="#94b2ee" stroke-width="1.2" stroke-linecap="round"/><path d="M105.9 415.4L110.9 416.7" stroke="#94b2ee" stroke-width="1.2" stroke-linecap="round"/><path d="M146.7 408.2L138.3 411.0" stroke="#9cb8ee" stroke-width="1.6" stroke-linecap="round"/><path d="M130.8 413.5L125.3 415.1" stroke="#94b2ee" stroke-width="1.5" stroke-linecap="round"/><path d="M109.8 433.5L108.3 437.3" stroke="#9cb8ee" stroke-width="1.1" stroke-linecap="round"/><path d="M84.8 406.1L91.1 408.1" stroke="#9cb8ee" stroke-width="1.5" stroke-linecap="round"/><path d="M71.1 390.7L78.8 392.0" stroke="#94b2ee" stroke-width="1.5" stroke-linecap="round"/><path d="M117.6 401.0L113.6 402.9" stroke="#9cb8ee" stroke-width="1.3" stroke-linecap="round"/><path d="M66.0 421.7L74.6 424.1" stroke="#9cb8ee" stroke-width="1.1" stroke-linecap="round"/><path d="M144.6 419.6L151.7 422.8" stroke="#9cb8ee" stroke-width="1.5" stroke-linecap="round"/><path d="M148.3 410.7L145.6 414.3" stroke="#9cb8ee" stroke-width="1.2" stroke-linecap="round"/><path d="M122.6 409.3L120.3 413.3" stroke="#9cb8ee" stroke-width="1.3" stroke-linecap="round"/><path d="M107.5 382.0L104.1 385.1" stroke="#9cb8ee" stroke-width="1.1" stroke-linecap="round"/><path d="M116.3 403.3L120.4 408.4" stroke="#94b2ee" stroke-width="1.4" stroke-linecap="round"/>
<ellipse cx="83.1" cy="415.8" rx="1.3" ry="0.5" fill="#5a7ed2" transform="rotate(0)"/><ellipse cx="108.0" cy="429.2" rx="1.1" ry="0.9" fill="#4a6cc8" transform="rotate(0)"/><ellipse cx="89.9" cy="394.8" rx="0.8" ry="0.8" fill="#4a6cc8" transform="rotate(0)"/><ellipse cx="145.8" cy="433.8" rx="1.4" ry="0.4" fill="#6a8ee0" transform="rotate(0)"/><ellipse cx="118.4" cy="421.9" rx="1.4" ry="0.4" fill="#5a7ed2" transform="rotate(0)"/><ellipse cx="74.4" cy="422.7" rx="1.1" ry="0.4" fill="#6a8ee0" transform="rotate(0)"/><ellipse cx="79.3" cy="413.1" rx="1.0" ry="0.6" fill="#4a6cc8" transform="rotate(0)"/><ellipse cx="150.2" cy="403.0" rx="0.6" ry="0.5" fill="#4a6cc8" transform="rotate(0)"/><ellipse cx="136.7" cy="401.6" rx="0.6" ry="0.7" fill="#6a8ee0" transform="rotate(0)"/><ellipse cx="84.3" cy="392.6" rx="0.7" ry="0.4" fill="#4a6cc8" transform="rotate(0)"/><ellipse cx="99.6" cy="414.7" rx="1.4" ry="0.5" fill="#5a7ed2" transform="rotate(0)"/><ellipse cx="124.4" cy="402.4" rx="1.1" ry="0.9" fill="#6a8ee0" transform="rotate(0)"/><ellipse cx="151.7" cy="408.7" rx="1.3" ry="0.5" fill="#6a8ee0" transform="rotate(0)"/><ellipse cx="101.0" cy="424.3" rx="0.6" ry="0.4" fill="#4a6cc8" transform="rotate(0)"/><ellipse cx="121.5" cy="399.6" rx="0.8" ry="0.7" fill="#5a7ed2" transform="rotate(0)"/><ellipse cx="96.1" cy="426.1" rx="0.6" ry="0.3" fill="#5a7ed2" transform="rotate(0)"/><ellipse cx="138.1" cy="429.7" rx="1.2" ry="0.7" fill="#5a7ed2" transform="rotate(0)"/><ellipse cx="113.5" cy="395.0" rx="0.9" ry="0.6" fill="#4a6cc8" transform="rotate(0)"/><ellipse cx="139.8" cy="416.9" rx="0.6" ry="0.7" fill="#4a6cc8" transform="rotate(0)"/><ellipse cx="76.8" cy="430.4" rx="0.6" ry="0.7" fill="#4a6cc8" transform="rotate(0)"/><ellipse cx="100.1" cy="412.2" rx="0.7" ry="0.4" fill="#6a8ee0" transform="rotate(0)"/><ellipse cx="135.4" cy="426.8" rx="1.3" ry="0.5" fill="#5a7ed2" transform="rotate(0)"/><ellipse cx="97.9" cy="409.6" rx="0.7" ry="0.5" fill="#5a7ed2" transform="rotate(0)"/><ellipse cx="94.1" cy="397.3" rx="0.6" ry="0.6" fill="#6a8ee0" transform="rotate(0)"/><ellipse cx="113.4" cy="403.5" rx="0.5" ry="0.6" fill="#6a8ee0" transform="rotate(0)"/><ellipse cx="117.5" cy="411.1" rx="1.0" ry="0.5" fill="#4a6cc8" transform="rotate(0)"/><ellipse cx="118.6" cy="398.4" rx="1.4" ry="0.6" fill="#4a6cc8" transform="rotate(0)"/><ellipse cx="75.2" cy="406.1" rx="0.7" ry="0.4" fill="#6a8ee0" transform="rotate(0)"/><ellipse cx="122.5" cy="419.0" rx="1.1" ry="0.5" fill="#5a7ed2" transform="rotate(0)"/><ellipse cx="133.9" cy="416.3" rx="0.9" ry="0.7" fill="#4a6cc8" transform="rotate(0)"/>
<path d="M68 398 L72 395 L80 395.5 L90 396 L97 394.5 L103 391 L109 386 L115 382.5 L123 380.8 L138 380.2 L155.5 380.5 L155.5 436 L68 436Z" fill="none" stroke="#6c84e6" stroke-width="3" opacity="0.6" filter="url(#bl10)"/>
<rect x="68" y="379" width="88" height="57" fill="url(#pileV)"/>
</g>
<path d="M71.9 388.7L81.3 393.7M76.2 385.1L84.9 390.9M87 390.9L93.5 387.2M100.7 385.1L111.5 392.3M95 387L101 393" stroke="#b4d0fa" stroke-width="2.4" stroke-linecap="round"/>
</g></g>
<clipPath id="cpr2"><rect x="203.9" y="353.05" width="136.2" height="105.95"/></clipPath><mask id="mk2" maskUnits="userSpaceOnUse" x="203.9" y="353.05" width="136.2" height="105.95"><path d="M230.0 398.0 L233.2 393.1 L236.9 391.2 L240.2 391.6 L245.2 390.4 L248.7 394.8 L254.2 392.0 L258.0 394.7 L263.2 392.6 L266.4 386.4 L271.2 379.9 L275.2 378.2 L280.1 377.4 L284.0 380.3 L287.3 380.4 L292.9 377.3 L296.8 377.2 L300.7 378.8 L304.3 378.4 L309.8 379.3 L312.7 380.7 L316.0 383.0 L315.9 403.5 L316.0 421.0 L311.0 428.0 L303.7 427.2 L293.5 428.9 L284.7 428.0 L274.9 426.5 L267.1 426.8 L257.7 427.6 L248.7 427.7 L239.5 425.2 L230.0 418.0 L229.5 410.0Z" fill="#fff" filter="url(#bl25)"/></mask><g clip-path="url(#cpr2)"><rect x="203.9" y="353.05" width="136.2" height="105.95" fill="#060606"/><path d="M230.0 398.0 L233.2 393.1 L236.9 391.2 L240.2 391.6 L245.2 390.4 L248.7 394.8 L254.2 392.0 L258.0 394.7 L263.2 392.6 L266.4 386.4 L271.2 379.9 L275.2 378.2 L280.1 377.4 L284.0 380.3 L287.3 380.4 L292.9 377.3 L296.8 377.2 L300.7 378.8 L304.3 378.4 L309.8 379.3 L312.7 380.7 L316.0 383.0 L315.9 403.5 L316.0 421.0 L311.0 428.0 L303.7 427.2 L293.5 428.9 L284.7 428.0 L274.9 426.5 L267.1 426.8 L257.7 427.6 L248.7 427.7 L239.5 425.2 L230.0 418.0 L229.5 410.0Z" fill="#365c34" filter="url(#bl30)"/><g mask="url(#mk2)"><g filter="url(#bl09)"><path d="M230.0 398.0 L233.2 393.1 L236.9 391.2 L240.2 391.6 L245.2 390.4 L248.7 394.8 L254.2 392.0 L258.0 394.7 L263.2 392.6 L266.4 386.4 L271.2 379.9 L275.2 378.2 L280.1 377.4 L284.0 380.3 L287.3 380.4 L292.9 377.3 L296.8 377.2 L300.7 378.8 L304.3 378.4 L309.8 379.3 L312.7 380.7 L316.0 383.0 L315.9 403.5 L316.0 421.0 L311.0 428.0 L303.7 427.2 L293.5 428.9 L284.7 428.0 L274.9 426.5 L267.1 426.8 L257.7 427.6 L248.7 427.7 L239.5 425.2 L230.0 418.0 L229.5 410.0Z" fill="#365c34"/><ellipse cx="315.2" cy="405.3" rx="1.7" ry="1.1" fill="#1a3218" transform="rotate(0)"/><ellipse cx="288.8" cy="404.5" rx="1.2" ry="1.1" fill="#1a3218" transform="rotate(0)"/><ellipse cx="306.4" cy="425.9" rx="1.7" ry="1.1" fill="#1a3218" transform="rotate(0)"/><ellipse cx="243.3" cy="379.1" rx="2.1" ry="0.8" fill="#1a3218" transform="rotate(0)"/><ellipse cx="237.8" cy="389.4" rx="1.3" ry="1.0" fill="#1a3218" transform="rotate(0)"/><ellipse cx="299.2" cy="381.7" rx="1.3" ry="1.0" fill="#1a3218" transform="rotate(0)"/><ellipse cx="257.8" cy="407.0" rx="2.3" ry="1.3" fill="#1a3218" transform="rotate(0)"/><ellipse cx="275.3" cy="379.2" rx="1.9" ry="0.6" fill="#1a3218" transform="rotate(0)"/><ellipse cx="249.9" cy="407.0" rx="1.7" ry="0.9" fill="#1a3218" transform="rotate(0)"/><ellipse cx="294.4" cy="389.0" rx="1.8" ry="0.7" fill="#1a3218" transform="rotate(0)"/><ellipse cx="269.4" cy="414.9" rx="1.5" ry="1.1" fill="#1a3218" transform="rotate(0)"/><ellipse cx="298.3" cy="401.8" rx="1.0" ry="0.8" fill="#1a3218" transform="rotate(0)"/><ellipse cx="283.4" cy="389.6" rx="1.8" ry="0.8" fill="#1a3218" transform="rotate(0)"/><ellipse cx="263.0" cy="381.0" rx="2.3" ry="0.6" fill="#1a3218" transform="rotate(0)"/><ellipse cx="309.0" cy="390.1" rx="1.5" ry="0.8" fill="#1a3218" transform="rotate(0)"/><ellipse cx="275.5" cy="426.6" rx="1.5" ry="0.6" fill="#1a3218" transform="rotate(0)"/><ellipse cx="261.3" cy="392.3" rx="1.5" ry="0.8" fill="#1a3218" transform="rotate(0)"/><ellipse cx="234.2" cy="401.1" rx="2.1" ry="1.0" fill="#1a3218" transform="rotate(0)"/><ellipse cx="239.7" cy="426.0" rx="1.1" ry="1.3" fill="#1a3218" transform="rotate(0)"/><ellipse cx="301.9" cy="410.1" rx="1.1" ry="1.3" fill="#1a3218" transform="rotate(0)"/><ellipse cx="269.9" cy="391.6" rx="1.6" ry="0.6" fill="#1a3218" transform="rotate(0)"/><ellipse cx="291.2" cy="416.5" rx="2.2" ry="1.2" fill="#1a3218" transform="rotate(0)"/><ellipse cx="242.1" cy="406.9" rx="1.5" ry="1.1" fill="#1a3218" transform="rotate(0)"/><ellipse cx="285.2" cy="389.1" rx="1.4" ry="0.8" fill="#1a3218" transform="rotate(0)"/><ellipse cx="262.0" cy="396.0" rx="2.3" ry="0.7" fill="#1a3218" transform="rotate(0)"/><ellipse cx="258.8" cy="397.6" rx="1.6" ry="0.8" fill="#1a3218" transform="rotate(0)"/><ellipse cx="263.9" cy="401.9" rx="2.4" ry="0.7" fill="#1a3218" transform="rotate(0)"/><ellipse cx="250.3" cy="393.2" rx="2.1" ry="0.6" fill="#1a3218" transform="rotate(0)"/><ellipse cx="246.4" cy="398.7" rx="2.3" ry="1.1" fill="#1a3218" transform="rotate(0)"/><ellipse cx="244.8" cy="403.8" rx="1.6" ry="0.7" fill="#1a3218" transform="rotate(0)"/><path d="M263.0 395.5L256.6 406.0" stroke="#7aac70" stroke-width="1.7" stroke-linecap="round"/><path d="M296.4 385.8L307.5 393.1" stroke="#5e9258" stroke-width="1.6" stroke-linecap="round"/><path d="M264.3 404.5L255.7 408.1" stroke="#5e9258" stroke-width="1.8" stroke-linecap="round"/><path d="M244.3 409.3L236.4 417.4" stroke="#4c7c46" stroke-width="1.7" stroke-linecap="round"/><path d="M251.0 402.9L257.5 408.3" stroke="#6ea266" stroke-width="1.2" stroke-linecap="round"/><path d="M248.6 423.0L253.8 431.5" stroke="#4c7c46" stroke-width="1.1" stroke-linecap="round"/><path d="M275.1 380.5L280.0 381.7" stroke="#5e9258" stroke-width="1.0" stroke-linecap="round"/><path d="M233.5 402.3L243.1 407.1" stroke="#6ea266" stroke-width="1.2" stroke-linecap="round"/><path d="M272.0 408.0L262.5 412.7" stroke="#5e9258" stroke-width="1.7" stroke-linecap="round"/><path d="M297.9 385.4L306.3 389.6" stroke="#7aac70" stroke-width="1.5" stroke-linecap="round"/><path d="M246.0 407.8L240.6 416.1" stroke="#7aac70" stroke-width="1.4" stroke-linecap="round"/><path d="M299.3 388.6L305.8 397.8" stroke="#7aac70" stroke-width="1.5" stroke-linecap="round"/><path d="M292.4 400.0L297.5 405.2" stroke="#5e9258" stroke-width="1.9" stroke-linecap="round"/><path d="M275.3 418.7L272.3 427.9" stroke="#6ea266" stroke-width="1.2" stroke-linecap="round"/><path d="M268.0 377.6L276.9 380.7" stroke="#4c7c46" stroke-width="1.5" stroke-linecap="round"/><path d="M245.8 413.7L236.3 423.9" stroke="#88ba7c" stroke-width="1.5" stroke-linecap="round"/><path d="M295.1 387.4L301.0 390.2" stroke="#5e9258" stroke-width="2.1" stroke-linecap="round"/><path d="M307.6 403.2L311.7 409.2" stroke="#88ba7c" stroke-width="2.0" stroke-linecap="round"/><path d="M236.3 425.2L228.4 429.5" stroke="#5e9258" stroke-width="1.4" stroke-linecap="round"/><path d="M267.5 381.6L262.4 389.2" stroke="#4c7c46" stroke-width="1.4" stroke-linecap="round"/><path d="M284.7 395.6L277.9 400.2" stroke="#5e9258" stroke-width="2.2" stroke-linecap="round"/><path d="M244.1 415.1L248.8 426.1" stroke="#5e9258" stroke-width="1.2" stroke-linecap="round"/><path d="M320.5 392.7L308.5 400.1" stroke="#7aac70" stroke-width="1.7" stroke-linecap="round"/><path d="M233.9 385.5L239.9 394.6" stroke="#5e9258" stroke-width="1.7" stroke-linecap="round"/><path d="M295.7 420.6L290.8 426.0" stroke="#7aac70" stroke-width="1.5" stroke-linecap="round"/><path d="M299.3 418.2L302.5 428.7" stroke="#4c7c46" stroke-width="1.9" stroke-linecap="round"/><path d="M246.3 381.7L241.1 386.5" stroke="#88ba7c" stroke-width="1.7" stroke-linecap="round"/><path d="M279.6 381.6L277.0 387.8" stroke="#6ea266" stroke-width="1.8" stroke-linecap="round"/><path d="M297.1 386.6L299.0 391.9" stroke="#4c7c46" stroke-width="2.2" stroke-linecap="round"/><path d="M303.6 412.7L297.2 417.1" stroke="#6ea266" stroke-width="1.3" stroke-linecap="round"/><path d="M274.7 415.7L282.3 421.0" stroke="#88ba7c" stroke-width="1.3" stroke-linecap="round"/><path d="M312.5 421.2L305.3 427.4" stroke="#5e9258" stroke-width="1.8" stroke-linecap="round"/><path d="M284.1 378.5L271.2 382.8" stroke="#5e9258" stroke-width="1.1" stroke-linecap="round"/><path d="M307.6 410.0L313.4 419.3" stroke="#5e9258" stroke-width="2.1" stroke-linecap="round"/><path d="M234.1 386.6L239.3 389.9" stroke="#6ea266" stroke-width="1.7" stroke-linecap="round"/><path d="M280.8 398.4L284.2 406.6" stroke="#7aac70" stroke-width="1.9" stroke-linecap="round"/><path d="M272.3 383.2L275.9 388.1" stroke="#6ea266" stroke-width="2.1" stroke-linecap="round"/><path d="M282.9 378.7L286.8 391.1" stroke="#6ea266" stroke-width="2.0" stroke-linecap="round"/><path d="M283.2 398.9L272.7 405.7" stroke="#88ba7c" stroke-width="1.9" stroke-linecap="round"/><path d="M236.5 381.1L238.9 388.0" stroke="#4c7c46" stroke-width="1.9" stroke-linecap="round"/><path d="M274.6 394.9L268.5 401.5" stroke="#88ba7c" stroke-width="2.2" stroke-linecap="round"/><path d="M239.4 392.8L249.4 399.2" stroke="#6ea266" stroke-width="1.9" stroke-linecap="round"/><path d="M232.7 383.4L238.1 393.1" stroke="#4c7c46" stroke-width="1.4" stroke-linecap="round"/><path d="M273.6 390.2L279.1 397.7" stroke="#88ba7c" stroke-width="1.6" stroke-linecap="round"/><path d="M307.3 420.8L311.7 425.2" stroke="#5e9258" stroke-width="1.2" stroke-linecap="round"/><path d="M302.1 407.8L310.2 410.9" stroke="#88ba7c" stroke-width="1.6" stroke-linecap="round"/><path d="M304.5 384.2L300.1 393.9" stroke="#4c7c46" stroke-width="1.1" stroke-linecap="round"/><path d="M246.7 399.3L250.7 406.2" stroke="#6ea266" stroke-width="2.0" stroke-linecap="round"/><path d="M309.8 422.6L315.6 424.6" stroke="#4c7c46" stroke-width="2.2" stroke-linecap="round"/><path d="M307.5 402.2L305.7 410.7" stroke="#6ea266" stroke-width="1.8" stroke-linecap="round"/><path d="M244.1 378.7L236.0 382.0" stroke="#7aac70" stroke-width="1.7" stroke-linecap="round"/><path d="M298.1 393.7L290.7 402.4" stroke="#88ba7c" stroke-width="1.2" stroke-linecap="round"/><path d="M262.6 401.0L253.6 405.3" stroke="#7aac70" stroke-width="2.0" stroke-linecap="round"/><path d="M255.5 383.5L248.7 392.0" stroke="#88ba7c" stroke-width="1.8" stroke-linecap="round"/><path d="M232.5 412.9L238.1 419.6" stroke="#4c7c46" stroke-width="1.3" stroke-linecap="round"/><path d="M252.1 385.4L250.0 394.1" stroke="#4c7c46" stroke-width="1.5" stroke-linecap="round"/><path d="M251.8 394.1L241.3 397.7" stroke="#4c7c46" stroke-width="1.0" stroke-linecap="round"/><path d="M283.9 415.5L286.8 423.7" stroke="#88ba7c" stroke-width="1.8" stroke-linecap="round"/><path d="M257.5 398.0L255.4 407.2" stroke="#4c7c46" stroke-width="1.4" stroke-linecap="round"/><path d="M259.8 393.5L246.8 397.0" stroke="#88ba7c" stroke-width="2.0" stroke-linecap="round"/><path d="M269.7 403.0L279.3 410.3" stroke="#4c7c46" stroke-width="1.4" stroke-linecap="round"/><path d="M290.9 400.1L282.6 403.6" stroke="#6ea266" stroke-width="1.7" stroke-linecap="round"/><path d="M293.7 388.5L287.2 394.7" stroke="#7aac70" stroke-width="1.7" stroke-linecap="round"/><path d="M297.9 406.8L306.7 409.6" stroke="#7aac70" stroke-width="2.1" stroke-linecap="round"/><path d="M308.0 404.4L315.6 407.1" stroke="#7aac70" stroke-width="1.2" stroke-linecap="round"/><path d="M246.2 421.5L243.6 433.4" stroke="#5e9258" stroke-width="1.9" stroke-linecap="round"/><path d="M301.4 411.0L306.1 413.7" stroke="#88ba7c" stroke-width="2.1" stroke-linecap="round"/><path d="M281.4 417.8L275.1 419.4" stroke="#7aac70" stroke-width="1.4" stroke-linecap="round"/><path d="M278.8 373.6L284.4 385.9" stroke="#6ea266" stroke-width="1.2" stroke-linecap="round"/><path d="M303.9 414.9L295.2 416.9" stroke="#88ba7c" stroke-width="2.1" stroke-linecap="round"/><path d="M271.0 377.7L283.8 380.8" stroke="#5e9258" stroke-width="2.1" stroke-linecap="round"/><path d="M289.5 418.4L285.0 421.8" stroke="#7aac70" stroke-width="1.0" stroke-linecap="round"/><path d="M293.4 391.9L298.5 393.5" stroke="#6ea266" stroke-width="1.2" stroke-linecap="round"/><path d="M304.1 414.1L296.4 422.2" stroke="#6ea266" stroke-width="1.9" stroke-linecap="round"/><path d="M226.3 421.0L238.4 427.2" stroke="#7aac70" stroke-width="2.2" stroke-linecap="round"/><path d="M235.8 401.7L224.8 409.3" stroke="#4c7c46" stroke-width="1.8" stroke-linecap="round"/><path d="M253.1 423.2L257.2 428.5" stroke="#88ba7c" stroke-width="1.9" stroke-linecap="round"/><path d="M273.8 389.9L278.1 401.1" stroke="#88ba7c" stroke-width="1.8" stroke-linecap="round"/><path d="M286.9 414.1L292.6 417.2" stroke="#5e9258" stroke-width="2.2" stroke-linecap="round"/><path d="M295.0 421.5L286.7 425.9" stroke="#6ea266" stroke-width="2.0" stroke-linecap="round"/><path d="M247.3 413.8L245.0 420.8" stroke="#88ba7c" stroke-width="1.1" stroke-linecap="round"/><path d="M237.1 395.4L228.5 397.9" stroke="#7aac70" stroke-width="2.0" stroke-linecap="round"/><path d="M279.6 396.3L283.4 400.6" stroke="#7aac70" stroke-width="2.0" stroke-linecap="round"/><path d="M268.2 384.8L273.9 396.1" stroke="#7aac70" stroke-width="2.0" stroke-linecap="round"/><path d="M246.7 399.5L253.4 404.1" stroke="#4c7c46" stroke-width="1.2" stroke-linecap="round"/><path d="M281.3 384.1L292.5 389.9" stroke="#6ea266" stroke-width="1.3" stroke-linecap="round"/><path d="M267.7 382.8L272.3 387.1" stroke="#4c7c46" stroke-width="1.9" stroke-linecap="round"/><path d="M294.8 403.3L296.4 411.5" stroke="#88ba7c" stroke-width="1.4" stroke-linecap="round"/><path d="M279.4 409.9L281.1 416.7" stroke="#5e9258" stroke-width="1.8" stroke-linecap="round"/><path d="M257.6 404.5L251.2 409.2" stroke="#5e9258" stroke-width="1.3" stroke-linecap="round"/><path d="M244.6 402.9L250.2 405.2" stroke="#5e9258" stroke-width="1.9" stroke-linecap="round"/><path d="M250.5 414.2L254.4 424.8" stroke="#5e9258" stroke-width="1.9" stroke-linecap="round"/><path d="M250.2 379.3L245.5 381.2" stroke="#4c7c46" stroke-width="1.1" stroke-linecap="round"/><path d="M284.8 419.6L281.3 424.9" stroke="#88ba7c" stroke-width="1.7" stroke-linecap="round"/><path d="M226.9 381.7L236.4 387.4" stroke="#4c7c46" stroke-width="1.4" stroke-linecap="round"/><path d="M275.1 385.6L280.9 392.8" stroke="#4c7c46" stroke-width="1.9" stroke-linecap="round"/><path d="M256.7 374.0L249.0 384.8" stroke="#7aac70" stroke-width="1.3" stroke-linecap="round"/><path d="M262.3 385.0L255.2 387.5" stroke="#7aac70" stroke-width="2.1" stroke-linecap="round"/><path d="M228.1 384.6L239.2 390.6" stroke="#4c7c46" stroke-width="1.5" stroke-linecap="round"/><path d="M298.6 403.7L290.9 414.2" stroke="#4c7c46" stroke-width="1.5" stroke-linecap="round"/><path d="M256.6 399.2L263.5 405.0" stroke="#88ba7c" stroke-width="1.6" stroke-linecap="round"/><path d="M304.1 406.8L315.7 409.5" stroke="#4c7c46" stroke-width="1.6" stroke-linecap="round"/><path d="M295.5 394.1L289.9 399.0" stroke="#4c7c46" stroke-width="1.9" stroke-linecap="round"/><path d="M252.4 411.4L257.0 413.6" stroke="#6ea266" stroke-width="1.2" stroke-linecap="round"/><path d="M255.2 401.9L267.9 405.2" stroke="#7aac70" stroke-width="1.7" stroke-linecap="round"/><path d="M236.3 402.4L230.1 407.0" stroke="#5e9258" stroke-width="1.0" stroke-linecap="round"/><path d="M284.0 401.4L278.9 409.2" stroke="#7aac70" stroke-width="2.0" stroke-linecap="round"/><path d="M273.4 383.0L270.2 393.7" stroke="#5e9258" stroke-width="1.8" stroke-linecap="round"/><path d="M234.7 411.5L228.8 414.5" stroke="#7aac70" stroke-width="1.7" stroke-linecap="round"/><path d="M286.4 402.1L289.2 407.2" stroke="#5e9258" stroke-width="1.8" stroke-linecap="round"/><path d="M309.0 406.9L313.1 414.1" stroke="#5e9258" stroke-width="1.2" stroke-linecap="round"/><path d="M306.5 421.2L312.1 427.5" stroke="#88ba7c" stroke-width="1.3" stroke-linecap="round"/><path d="M285.4 394.1L279.2 403.2" stroke="#4c7c46" stroke-width="1.2" stroke-linecap="round"/><path d="M287.3 397.6L280.5 405.7" stroke="#7aac70" stroke-width="2.1" stroke-linecap="round"/><path d="M267.1 395.4L270.5 402.2" stroke="#88ba7c" stroke-width="1.6" stroke-linecap="round"/><path d="M246.0 375.3L235.6 383.9" stroke="#4c7c46" stroke-width="1.4" stroke-linecap="round"/><path d="M278.9 379.8L287.8 386.8" stroke="#5e9258" stroke-width="1.3" stroke-linecap="round"/><path d="M230.9 411.8L234.1 418.3" stroke="#5e9258" stroke-width="1.2" stroke-linecap="round"/><path d="M291.1 390.8L283.6 397.9" stroke="#5e9258" stroke-width="2.0" stroke-linecap="round"/><path d="M299.5 379.3L305.5 388.2" stroke="#88ba7c" stroke-width="2.1" stroke-linecap="round"/><path d="M272.6 393.8L270.2 399.9" stroke="#5e9258" stroke-width="1.1" stroke-linecap="round"/><path d="M272.5 381.9L266.6 386.3" stroke="#5e9258" stroke-width="1.3" stroke-linecap="round"/><path d="M276.8 411.0L286.4 416.5" stroke="#88ba7c" stroke-width="1.9" stroke-linecap="round"/><path d="M244.8 425.9L252.9 427.6" stroke="#5e9258" stroke-width="2.0" stroke-linecap="round"/><path d="M314.9 380.4L305.5 388.6" stroke="#5e9258" stroke-width="1.8" stroke-linecap="round"/><path d="M251.4 405.8L257.9 409.9" stroke="#5e9258" stroke-width="1.5" stroke-linecap="round"/><path d="M249.7 418.3L253.1 425.6" stroke="#7aac70" stroke-width="1.5" stroke-linecap="round"/><path d="M297.0 378.9L309.0 384.3" stroke="#88ba7c" stroke-width="1.5" stroke-linecap="round"/><path d="M243.1 376.9L245.1 387.0" stroke="#6ea266" stroke-width="1.4" stroke-linecap="round"/><path d="M231.0 383.5L242.0 387.8" stroke="#5e9258" stroke-width="1.4" stroke-linecap="round"/><path d="M290.4 388.9L279.6 392.4" stroke="#7aac70" stroke-width="1.5" stroke-linecap="round"/><path d="M265.7 388.7L274.7 398.2" stroke="#6ea266" stroke-width="2.2" stroke-linecap="round"/><path d="M279.4 398.3L272.2 400.6" stroke="#88ba7c" stroke-width="1.5" stroke-linecap="round"/><path d="M265.1 416.6L276.1 424.6" stroke="#7aac70" stroke-width="1.5" stroke-linecap="round"/><path d="M285.1 414.3L282.1 425.0" stroke="#88ba7c" stroke-width="1.4" stroke-linecap="round"/><path d="M260.5 378.7L250.2 381.9" stroke="#4c7c46" stroke-width="1.1" stroke-linecap="round"/><path d="M245.1 386.7L235.1 396.1" stroke="#5e9258" stroke-width="1.7" stroke-linecap="round"/><path d="M264.1 391.3L272.1 393.9" stroke="#88ba7c" stroke-width="1.2" stroke-linecap="round"/><path d="M263.1 399.9L265.2 410.9" stroke="#5e9258" stroke-width="1.7" stroke-linecap="round"/><path d="M242.1 383.5L251.0 392.2" stroke="#7aac70" stroke-width="1.7" stroke-linecap="round"/><path d="M247.8 382.5L236.1 389.3" stroke="#7aac70" stroke-width="1.7" stroke-linecap="round"/><path d="M286.1 411.8L296.7 415.8" stroke="#6ea266" stroke-width="1.5" stroke-linecap="round"/><path d="M271.9 410.9L278.8 416.4" stroke="#4c7c46" stroke-width="2.1" stroke-linecap="round"/><path d="M262.7 419.4L271.1 421.2" stroke="#5e9258" stroke-width="1.1" stroke-linecap="round"/><path d="M239.4 386.5L231.6 392.0" stroke="#5e9258" stroke-width="1.8" stroke-linecap="round"/><path d="M274.8 376.0L268.1 383.0" stroke="#7aac70" stroke-width="1.8" stroke-linecap="round"/><path d="M253.7 425.4L243.6 428.5" stroke="#5e9258" stroke-width="1.8" stroke-linecap="round"/><path d="M251.3 410.7L243.5 418.3" stroke="#7aac70" stroke-width="1.7" stroke-linecap="round"/><path d="M253.8 382.0L250.4 387.4" stroke="#4c7c46" stroke-width="1.2" stroke-linecap="round"/><path d="M267.3 423.4L272.4 429.9" stroke="#4c7c46" stroke-width="2.1" stroke-linecap="round"/><path d="M292.4 392.9L282.0 395.4" stroke="#6ea266" stroke-width="1.3" stroke-linecap="round"/><path d="M243.1 400.4L238.5 405.0" stroke="#7aac70" stroke-width="1.1" stroke-linecap="round"/><path d="M312.8 397.7L315.5 403.9" stroke="#5e9258" stroke-width="1.1" stroke-linecap="round"/><path d="M254.9 400.8L260.8 409.8" stroke="#6ea266" stroke-width="1.2" stroke-linecap="round"/><path d="M262.2 397.3L266.1 400.9" stroke="#6ea266" stroke-width="1.4" stroke-linecap="round"/><path d="M270.8 389.8L279.5 397.4" stroke="#4c7c46" stroke-width="1.4" stroke-linecap="round"/><path d="M270.2 385.6L280.3 390.6" stroke="#4c7c46" stroke-width="1.7" stroke-linecap="round"/><path d="M299.1 408.6L307.7 411.2" stroke="#4c7c46" stroke-width="1.9" stroke-linecap="round"/><path d="M265.3 381.0L255.8 387.1" stroke="#5e9258" stroke-width="1.4" stroke-linecap="round"/><path d="M310.3 387.3L304.6 394.4" stroke="#4c7c46" stroke-width="1.3" stroke-linecap="round"/><path d="M290.8 391.8L302.7 394.5" stroke="#7aac70" stroke-width="1.1" stroke-linecap="round"/><path d="M274.2 415.9L266.5 422.2" stroke="#4c7c46" stroke-width="1.3" stroke-linecap="round"/><path d="M282.1 401.8L287.4 412.0" stroke="#5e9258" stroke-width="1.7" stroke-linecap="round"/><path d="M301.7 387.7L308.4 399.9" stroke="#4c7c46" stroke-width="2.1" stroke-linecap="round"/><path d="M276.6 419.3L285.0 428.7" stroke="#88ba7c" stroke-width="2.1" stroke-linecap="round"/><path d="M242.0 401.3L230.3 406.3" stroke="#6ea266" stroke-width="1.9" stroke-linecap="round"/><path d="M259.4 381.8L261.8 390.2" stroke="#5e9258" stroke-width="1.2" stroke-linecap="round"/><path d="M303.9 391.1L293.0 398.3" stroke="#7aac70" stroke-width="2.0" stroke-linecap="round"/><path d="M234.5 379.1L237.0 384.8" stroke="#88ba7c" stroke-width="1.5" stroke-linecap="round"/><path d="M281.6 421.2L273.2 429.9" stroke="#4c7c46" stroke-width="1.8" stroke-linecap="round"/><ellipse cx="312.1" cy="412.4" rx="1.0" ry="0.9" fill="#1a3218" transform="rotate(0)"/><ellipse cx="309.7" cy="417.7" rx="1.8" ry="1.2" fill="#1a3218" transform="rotate(0)"/><ellipse cx="253.3" cy="386.3" rx="1.5" ry="1.1" fill="#1a3218" transform="rotate(0)"/><ellipse cx="234.1" cy="391.2" rx="1.9" ry="1.0" fill="#1a3218" transform="rotate(0)"/><ellipse cx="297.9" cy="389.3" rx="0.9" ry="0.9" fill="#1a3218" transform="rotate(0)"/><ellipse cx="233.5" cy="425.4" rx="1.6" ry="1.2" fill="#1a3218" transform="rotate(0)"/><ellipse cx="304.9" cy="420.7" rx="1.7" ry="0.5" fill="#1a3218" transform="rotate(0)"/><ellipse cx="284.6" cy="410.3" rx="2.0" ry="1.0" fill="#1a3218" transform="rotate(0)"/><ellipse cx="303.3" cy="426.9" rx="1.6" ry="0.9" fill="#1a3218" transform="rotate(0)"/><ellipse cx="243.2" cy="409.0" rx="1.0" ry="0.6" fill="#1a3218" transform="rotate(0)"/><ellipse cx="294.2" cy="423.9" rx="1.7" ry="1.0" fill="#1a3218" transform="rotate(0)"/><ellipse cx="280.0" cy="385.9" rx="1.9" ry="0.7" fill="#1a3218" transform="rotate(0)"/><ellipse cx="284.9" cy="421.1" rx="1.5" ry="1.2" fill="#1a3218" transform="rotate(0)"/><ellipse cx="313.9" cy="419.9" rx="0.8" ry="0.9" fill="#1a3218" transform="rotate(0)"/><rect x="277.3" y="379" width="43.0" height="49" fill="url(#fadeR)"/></g></g><path d="M232.0 390.0L242.0 398.0M238.0 385.0L246.0 394.0M252.0 386.0L260.0 393.0M256.0 391.0L264.0 385.0M266.0 388.0L272.0 394.0" stroke="#6ea266" stroke-width="2" stroke-linecap="round" opacity="0.6" filter="url(#bl10)"/></g><g transform="translate(238.08,453.00)" fill="#fff"><text x="0.00" y="0" font-size="28" font-weight="bold" transform="scale(1,1.03)">0.05 s</text></g>
<clipPath id="cpr3"><rect x="365" y="352.5" width="136.8" height="106.4"/></clipPath><mask id="mk3" maskUnits="userSpaceOnUse" x="365" y="352.5" width="136.8" height="106.4"><path d="M393.4 394.0 L396.5 389.1 L400.1 387.2 L403.3 387.6 L408.1 386.4 L411.5 390.8 L416.9 388.0 L420.6 390.7 L425.7 388.5 L428.8 381.9 L433.5 375.1 L437.4 373.2 L442.2 372.4 L445.9 375.3 L449.1 375.4 L454.6 372.3 L458.4 372.2 L462.1 373.8 L465.6 373.4 L471.0 374.3 L473.8 375.7 L477.0 378.0 L476.9 400.2 L477.0 419.5 L472.0 426.5 L465.1 425.7 L455.1 427.4 L446.6 426.5 L437.1 425.0 L429.5 425.3 L420.4 426.1 L411.6 426.2 L402.6 423.7 L393.4 416.5 L392.9 407.2Z" fill="#fff" filter="url(#bl25)"/></mask><g clip-path="url(#cpr3)"><rect x="365" y="352.5" width="136.8" height="106.4" fill="#060606"/><path d="M393.4 394.0 L396.5 389.1 L400.1 387.2 L403.3 387.6 L408.1 386.4 L411.5 390.8 L416.9 388.0 L420.6 390.7 L425.7 388.5 L428.8 381.9 L433.5 375.1 L437.4 373.2 L442.2 372.4 L445.9 375.3 L449.1 375.4 L454.6 372.3 L458.4 372.2 L462.1 373.8 L465.6 373.4 L471.0 374.3 L473.8 375.7 L477.0 378.0 L476.9 400.2 L477.0 419.5 L472.0 426.5 L465.1 425.7 L455.1 427.4 L446.6 426.5 L437.1 425.0 L429.5 425.3 L420.4 426.1 L411.6 426.2 L402.6 423.7 L393.4 416.5 L392.9 407.2Z" fill="#2b4a2a" filter="url(#bl30)"/><g mask="url(#mk3)"><g filter="url(#bl09)"><path d="M393.4 394.0 L396.5 389.1 L400.1 387.2 L403.3 387.6 L408.1 386.4 L411.5 390.8 L416.9 388.0 L420.6 390.7 L425.7 388.5 L428.8 381.9 L433.5 375.1 L437.4 373.2 L442.2 372.4 L445.9 375.3 L449.1 375.4 L454.6 372.3 L458.4 372.2 L462.1 373.8 L465.6 373.4 L471.0 374.3 L473.8 375.7 L477.0 378.0 L476.9 400.2 L477.0 419.5 L472.0 426.5 L465.1 425.7 L455.1 427.4 L446.6 426.5 L437.1 425.0 L429.5 425.3 L420.4 426.1 L411.6 426.2 L402.6 423.7 L393.4 416.5 L392.9 407.2Z" fill="#2b4a2a"/><ellipse cx="426.7" cy="384.6" rx="1.5" ry="1.4" fill="#142812" transform="rotate(0)"/><ellipse cx="467.3" cy="412.9" rx="1.1" ry="0.6" fill="#142812" transform="rotate(0)"/><ellipse cx="394.2" cy="404.9" rx="1.4" ry="1.0" fill="#142812" transform="rotate(0)"/><ellipse cx="475.9" cy="409.1" rx="2.1" ry="0.8" fill="#142812" transform="rotate(0)"/><ellipse cx="473.3" cy="397.0" rx="1.3" ry="0.7" fill="#142812" transform="rotate(0)"/><ellipse cx="428.2" cy="380.9" rx="1.8" ry="1.2" fill="#142812" transform="rotate(0)"/><ellipse cx="457.5" cy="386.9" rx="1.0" ry="1.1" fill="#142812" transform="rotate(0)"/><ellipse cx="443.3" cy="413.0" rx="1.7" ry="1.4" fill="#142812" transform="rotate(0)"/><ellipse cx="424.0" cy="388.8" rx="2.1" ry="0.7" fill="#142812" transform="rotate(0)"/><ellipse cx="424.4" cy="384.9" rx="2.2" ry="1.3" fill="#142812" transform="rotate(0)"/><ellipse cx="458.7" cy="377.3" rx="1.4" ry="0.9" fill="#142812" transform="rotate(0)"/><ellipse cx="459.4" cy="388.0" rx="1.4" ry="0.7" fill="#142812" transform="rotate(0)"/><ellipse cx="447.5" cy="417.8" rx="1.7" ry="0.7" fill="#142812" transform="rotate(0)"/><ellipse cx="465.9" cy="411.7" rx="1.9" ry="1.1" fill="#142812" transform="rotate(0)"/><ellipse cx="475.0" cy="406.8" rx="2.1" ry="1.3" fill="#142812" transform="rotate(0)"/><ellipse cx="407.2" cy="392.1" rx="2.3" ry="0.8" fill="#142812" transform="rotate(0)"/><ellipse cx="426.1" cy="406.1" rx="2.1" ry="0.7" fill="#142812" transform="rotate(0)"/><ellipse cx="422.4" cy="423.0" rx="1.6" ry="1.1" fill="#142812" transform="rotate(0)"/><ellipse cx="429.4" cy="387.6" rx="2.4" ry="0.6" fill="#142812" transform="rotate(0)"/><ellipse cx="393.1" cy="402.4" rx="1.4" ry="0.7" fill="#142812" transform="rotate(0)"/><ellipse cx="396.2" cy="416.3" rx="2.1" ry="0.9" fill="#142812" transform="rotate(0)"/><ellipse cx="434.2" cy="388.2" rx="2.1" ry="1.0" fill="#142812" transform="rotate(0)"/><ellipse cx="422.1" cy="396.7" rx="2.2" ry="0.8" fill="#142812" transform="rotate(0)"/><ellipse cx="409.3" cy="420.6" rx="2.4" ry="1.1" fill="#142812" transform="rotate(0)"/><ellipse cx="443.5" cy="391.7" rx="1.9" ry="0.8" fill="#142812" transform="rotate(0)"/><ellipse cx="435.8" cy="377.6" rx="1.9" ry="0.6" fill="#142812" transform="rotate(0)"/><ellipse cx="441.1" cy="425.8" rx="1.9" ry="0.9" fill="#142812" transform="rotate(0)"/><ellipse cx="448.3" cy="394.5" rx="2.1" ry="1.1" fill="#142812" transform="rotate(0)"/><ellipse cx="425.0" cy="418.0" rx="1.0" ry="1.3" fill="#142812" transform="rotate(0)"/><ellipse cx="441.8" cy="399.1" rx="2.0" ry="1.4" fill="#142812" transform="rotate(0)"/><path d="M461.3 406.1L452.3 416.8" stroke="#467040" stroke-width="1.8" stroke-linecap="round"/><path d="M445.9 417.0L459.0 421.7" stroke="#5a8652" stroke-width="1.4" stroke-linecap="round"/><path d="M401.0 396.4L407.7 400.4" stroke="#467040" stroke-width="1.8" stroke-linecap="round"/><path d="M427.6 406.6L435.0 410.4" stroke="#3c6236" stroke-width="1.8" stroke-linecap="round"/><path d="M456.2 372.2L454.2 380.5" stroke="#64905a" stroke-width="2.1" stroke-linecap="round"/><path d="M454.1 403.7L449.2 413.6" stroke="#4f7c48" stroke-width="2.0" stroke-linecap="round"/><path d="M468.9 368.1L464.9 380.5" stroke="#3c6236" stroke-width="1.6" stroke-linecap="round"/><path d="M412.6 405.7L419.2 410.6" stroke="#4f7c48" stroke-width="2.2" stroke-linecap="round"/><path d="M398.6 406.7L390.9 416.4" stroke="#467040" stroke-width="1.2" stroke-linecap="round"/><path d="M404.1 418.4L415.3 421.9" stroke="#64905a" stroke-width="1.3" stroke-linecap="round"/><path d="M475.9 382.5L477.5 388.7" stroke="#467040" stroke-width="1.6" stroke-linecap="round"/><path d="M463.6 405.6L461.1 417.3" stroke="#3c6236" stroke-width="1.7" stroke-linecap="round"/><path d="M436.1 412.6L423.4 418.4" stroke="#467040" stroke-width="1.7" stroke-linecap="round"/><path d="M438.0 380.5L432.2 384.4" stroke="#5a8652" stroke-width="1.2" stroke-linecap="round"/><path d="M461.3 383.6L454.6 389.4" stroke="#3c6236" stroke-width="1.2" stroke-linecap="round"/><path d="M432.2 402.9L425.0 413.6" stroke="#4f7c48" stroke-width="1.3" stroke-linecap="round"/><path d="M429.3 413.2L427.5 419.5" stroke="#64905a" stroke-width="2.0" stroke-linecap="round"/><path d="M400.4 378.7L398.5 386.4" stroke="#3c6236" stroke-width="1.8" stroke-linecap="round"/><path d="M466.0 402.3L471.5 404.0" stroke="#4f7c48" stroke-width="1.9" stroke-linecap="round"/><path d="M453.7 423.0L446.1 426.5" stroke="#64905a" stroke-width="1.6" stroke-linecap="round"/><path d="M440.5 401.4L447.3 411.3" stroke="#467040" stroke-width="1.6" stroke-linecap="round"/><path d="M430.6 379.9L427.9 392.7" stroke="#467040" stroke-width="1.1" stroke-linecap="round"/><path d="M414.7 410.5L413.0 415.2" stroke="#4f7c48" stroke-width="1.2" stroke-linecap="round"/><path d="M442.9 373.4L448.7 377.3" stroke="#4f7c48" stroke-width="1.5" stroke-linecap="round"/><path d="M433.7 371.3L431.0 379.4" stroke="#5a8652" stroke-width="1.0" stroke-linecap="round"/><path d="M430.4 390.5L420.6 397.1" stroke="#5a8652" stroke-width="1.2" stroke-linecap="round"/><path d="M443.7 391.1L437.6 396.1" stroke="#4f7c48" stroke-width="1.5" stroke-linecap="round"/><path d="M426.4 372.2L424.0 381.6" stroke="#3c6236" stroke-width="1.5" stroke-linecap="round"/><path d="M472.5 371.5L460.8 378.3" stroke="#64905a" stroke-width="1.2" stroke-linecap="round"/><path d="M420.1 403.9L415.7 409.7" stroke="#467040" stroke-width="2.1" stroke-linecap="round"/><path d="M460.9 415.8L466.9 420.9" stroke="#3c6236" stroke-width="1.1" stroke-linecap="round"/><path d="M442.9 414.3L447.8 417.4" stroke="#4f7c48" stroke-width="1.1" stroke-linecap="round"/><path d="M422.6 376.2L435.1 379.5" stroke="#467040" stroke-width="2.0" stroke-linecap="round"/><path d="M411.9 410.0L418.5 418.1" stroke="#4f7c48" stroke-width="1.5" stroke-linecap="round"/><path d="M479.4 399.1L471.7 409.8" stroke="#4f7c48" stroke-width="1.2" stroke-linecap="round"/><path d="M467.2 388.6L461.1 398.0" stroke="#5a8652" stroke-width="1.0" stroke-linecap="round"/><path d="M406.5 418.2L409.0 430.0" stroke="#4f7c48" stroke-width="2.0" stroke-linecap="round"/><path d="M446.5 382.5L453.6 392.0" stroke="#3c6236" stroke-width="1.8" stroke-linecap="round"/><path d="M413.3 408.0L406.4 413.7" stroke="#5a8652" stroke-width="1.6" stroke-linecap="round"/><path d="M441.7 388.8L430.4 392.2" stroke="#467040" stroke-width="1.2" stroke-linecap="round"/><path d="M423.2 422.2L413.8 426.1" stroke="#467040" stroke-width="1.0" stroke-linecap="round"/><path d="M430.1 395.1L435.0 402.8" stroke="#4f7c48" stroke-width="1.8" stroke-linecap="round"/><path d="M437.9 380.2L430.8 387.8" stroke="#467040" stroke-width="1.6" stroke-linecap="round"/><path d="M440.9 408.0L433.5 415.6" stroke="#64905a" stroke-width="1.0" stroke-linecap="round"/><path d="M411.5 416.2L422.4 421.8" stroke="#3c6236" stroke-width="1.7" stroke-linecap="round"/><path d="M417.3 393.5L424.4 405.1" stroke="#467040" stroke-width="1.5" stroke-linecap="round"/><path d="M441.7 379.2L435.5 386.2" stroke="#5a8652" stroke-width="1.8" stroke-linecap="round"/><path d="M445.3 395.6L447.4 403.8" stroke="#64905a" stroke-width="1.4" stroke-linecap="round"/><path d="M446.8 418.8L449.4 427.8" stroke="#3c6236" stroke-width="1.8" stroke-linecap="round"/><path d="M412.6 379.3L424.5 386.5" stroke="#5a8652" stroke-width="1.9" stroke-linecap="round"/><path d="M421.7 384.2L427.3 387.1" stroke="#4f7c48" stroke-width="1.2" stroke-linecap="round"/><path d="M434.5 412.1L440.3 415.5" stroke="#4f7c48" stroke-width="1.9" stroke-linecap="round"/><path d="M412.7 420.7L417.9 422.1" stroke="#5a8652" stroke-width="1.7" stroke-linecap="round"/><path d="M467.0 388.0L476.3 394.2" stroke="#64905a" stroke-width="1.2" stroke-linecap="round"/><path d="M457.4 420.4L463.1 429.9" stroke="#3c6236" stroke-width="1.8" stroke-linecap="round"/><path d="M428.7 386.7L418.4 390.6" stroke="#3c6236" stroke-width="1.6" stroke-linecap="round"/><path d="M474.1 373.8L468.1 381.8" stroke="#64905a" stroke-width="1.3" stroke-linecap="round"/><path d="M412.5 396.7L415.8 405.1" stroke="#467040" stroke-width="1.4" stroke-linecap="round"/><path d="M434.9 380.2L428.1 386.1" stroke="#3c6236" stroke-width="1.3" stroke-linecap="round"/><path d="M444.1 379.0L437.8 386.4" stroke="#3c6236" stroke-width="1.7" stroke-linecap="round"/><path d="M397.1 377.1L402.5 378.8" stroke="#4f7c48" stroke-width="2.2" stroke-linecap="round"/><path d="M458.9 421.3L469.2 426.7" stroke="#467040" stroke-width="2.1" stroke-linecap="round"/><path d="M439.4 392.6L427.9 400.0" stroke="#64905a" stroke-width="2.2" stroke-linecap="round"/><path d="M399.7 398.0L387.0 401.0" stroke="#4f7c48" stroke-width="1.4" stroke-linecap="round"/><path d="M476.6 417.4L467.6 422.6" stroke="#3c6236" stroke-width="1.7" stroke-linecap="round"/><path d="M414.7 417.7L411.0 422.5" stroke="#3c6236" stroke-width="1.5" stroke-linecap="round"/><path d="M412.6 407.9L403.9 413.5" stroke="#467040" stroke-width="1.5" stroke-linecap="round"/><path d="M399.0 376.4L405.1 385.6" stroke="#5a8652" stroke-width="1.3" stroke-linecap="round"/><path d="M422.8 411.6L429.1 418.2" stroke="#3c6236" stroke-width="1.5" stroke-linecap="round"/><path d="M436.3 379.9L434.2 385.6" stroke="#467040" stroke-width="1.8" stroke-linecap="round"/><path d="M465.3 381.5L453.1 385.3" stroke="#64905a" stroke-width="2.1" stroke-linecap="round"/><path d="M411.2 373.1L406.8 379.1" stroke="#5a8652" stroke-width="2.0" stroke-linecap="round"/><path d="M403.4 387.8L400.6 399.2" stroke="#467040" stroke-width="1.5" stroke-linecap="round"/><path d="M392.3 425.9L400.9 427.9" stroke="#3c6236" stroke-width="1.6" stroke-linecap="round"/><path d="M403.4 372.2L399.0 376.4" stroke="#5a8652" stroke-width="1.4" stroke-linecap="round"/><path d="M401.9 404.6L400.1 410.1" stroke="#5a8652" stroke-width="1.5" stroke-linecap="round"/><path d="M459.8 394.4L466.3 396.2" stroke="#4f7c48" stroke-width="1.3" stroke-linecap="round"/><path d="M396.0 376.7L394.0 384.2" stroke="#5a8652" stroke-width="1.6" stroke-linecap="round"/><path d="M429.8 420.7L423.0 432.0" stroke="#467040" stroke-width="2.0" stroke-linecap="round"/><path d="M397.8 392.3L404.0 393.9" stroke="#5a8652" stroke-width="2.2" stroke-linecap="round"/><path d="M477.5 391.7L467.4 396.6" stroke="#4f7c48" stroke-width="2.1" stroke-linecap="round"/><path d="M399.3 383.4L397.3 390.2" stroke="#64905a" stroke-width="1.7" stroke-linecap="round"/><path d="M409.3 413.5L397.5 420.2" stroke="#467040" stroke-width="1.4" stroke-linecap="round"/><path d="M452.1 422.7L457.0 424.7" stroke="#467040" stroke-width="2.1" stroke-linecap="round"/><path d="M451.8 399.7L458.1 408.2" stroke="#3c6236" stroke-width="2.2" stroke-linecap="round"/><path d="M424.9 384.3L431.7 390.5" stroke="#467040" stroke-width="1.0" stroke-linecap="round"/><path d="M434.7 396.1L422.3 400.4" stroke="#5a8652" stroke-width="1.2" stroke-linecap="round"/><path d="M467.6 406.4L460.8 413.0" stroke="#3c6236" stroke-width="1.8" stroke-linecap="round"/><path d="M418.0 392.6L415.7 400.6" stroke="#5a8652" stroke-width="2.0" stroke-linecap="round"/><path d="M468.9 376.2L462.9 384.3" stroke="#64905a" stroke-width="1.7" stroke-linecap="round"/><path d="M438.2 380.5L443.3 384.2" stroke="#3c6236" stroke-width="2.1" stroke-linecap="round"/><path d="M437.6 375.7L446.9 377.9" stroke="#4f7c48" stroke-width="1.5" stroke-linecap="round"/><path d="M429.0 412.8L420.4 415.2" stroke="#64905a" stroke-width="1.9" stroke-linecap="round"/><path d="M427.4 369.8L430.6 378.7" stroke="#5a8652" stroke-width="1.9" stroke-linecap="round"/><path d="M434.5 421.4L424.1 428.0" stroke="#4f7c48" stroke-width="1.8" stroke-linecap="round"/><path d="M443.3 407.8L453.7 412.6" stroke="#5a8652" stroke-width="2.1" stroke-linecap="round"/><path d="M477.7 399.3L468.6 402.1" stroke="#467040" stroke-width="1.4" stroke-linecap="round"/><path d="M456.7 377.1L459.5 385.4" stroke="#3c6236" stroke-width="2.2" stroke-linecap="round"/><path d="M472.6 398.7L475.6 404.4" stroke="#467040" stroke-width="1.9" stroke-linecap="round"/><path d="M410.9 394.2L408.5 402.1" stroke="#64905a" stroke-width="1.5" stroke-linecap="round"/><path d="M474.4 387.7L466.2 391.4" stroke="#3c6236" stroke-width="1.5" stroke-linecap="round"/><path d="M434.0 401.9L436.6 411.9" stroke="#5a8652" stroke-width="1.0" stroke-linecap="round"/><path d="M465.6 394.9L469.6 403.6" stroke="#64905a" stroke-width="1.9" stroke-linecap="round"/><path d="M465.7 386.8L469.1 393.7" stroke="#3c6236" stroke-width="2.1" stroke-linecap="round"/><path d="M446.5 413.3L453.6 415.9" stroke="#4f7c48" stroke-width="1.5" stroke-linecap="round"/><path d="M471.7 398.9L477.9 404.8" stroke="#3c6236" stroke-width="2.2" stroke-linecap="round"/><path d="M463.1 377.1L466.1 390.7" stroke="#3c6236" stroke-width="1.4" stroke-linecap="round"/><path d="M451.4 400.6L449.0 413.4" stroke="#5a8652" stroke-width="1.7" stroke-linecap="round"/><path d="M402.0 416.8L406.7 423.3" stroke="#467040" stroke-width="1.7" stroke-linecap="round"/><path d="M468.4 413.9L460.0 418.4" stroke="#64905a" stroke-width="1.5" stroke-linecap="round"/><path d="M451.8 408.8L459.1 416.8" stroke="#3c6236" stroke-width="1.6" stroke-linecap="round"/><path d="M436.9 404.8L425.5 412.3" stroke="#467040" stroke-width="1.3" stroke-linecap="round"/><path d="M433.4 390.1L445.7 394.0" stroke="#467040" stroke-width="2.1" stroke-linecap="round"/><path d="M434.5 373.0L437.6 377.1" stroke="#4f7c48" stroke-width="1.6" stroke-linecap="round"/><path d="M409.3 417.9L415.6 422.2" stroke="#5a8652" stroke-width="2.1" stroke-linecap="round"/><path d="M424.4 386.9L423.0 392.9" stroke="#4f7c48" stroke-width="1.7" stroke-linecap="round"/><path d="M467.7 413.4L462.0 422.6" stroke="#5a8652" stroke-width="1.3" stroke-linecap="round"/><path d="M447.7 415.6L444.8 429.1" stroke="#5a8652" stroke-width="1.0" stroke-linecap="round"/><path d="M424.6 389.0L435.5 393.3" stroke="#64905a" stroke-width="1.8" stroke-linecap="round"/><path d="M445.3 395.2L438.9 398.3" stroke="#3c6236" stroke-width="1.2" stroke-linecap="round"/><path d="M406.9 403.2L412.4 404.9" stroke="#467040" stroke-width="1.7" stroke-linecap="round"/><path d="M451.4 379.1L445.7 381.0" stroke="#4f7c48" stroke-width="1.9" stroke-linecap="round"/><path d="M465.2 414.9L457.5 420.8" stroke="#3c6236" stroke-width="1.4" stroke-linecap="round"/><path d="M420.1 412.8L417.5 421.3" stroke="#4f7c48" stroke-width="1.4" stroke-linecap="round"/><path d="M422.8 417.1L419.6 422.5" stroke="#64905a" stroke-width="1.9" stroke-linecap="round"/><path d="M451.0 396.4L458.7 403.6" stroke="#5a8652" stroke-width="2.0" stroke-linecap="round"/><path d="M466.7 395.8L455.5 403.1" stroke="#467040" stroke-width="1.2" stroke-linecap="round"/><path d="M433.7 420.3L428.4 431.1" stroke="#64905a" stroke-width="1.9" stroke-linecap="round"/><path d="M456.6 412.8L458.5 421.0" stroke="#4f7c48" stroke-width="1.8" stroke-linecap="round"/><path d="M403.0 375.3L391.5 380.7" stroke="#467040" stroke-width="1.7" stroke-linecap="round"/><path d="M414.4 398.1L424.2 406.5" stroke="#467040" stroke-width="1.9" stroke-linecap="round"/><path d="M426.4 406.1L424.6 415.6" stroke="#64905a" stroke-width="1.6" stroke-linecap="round"/><path d="M400.4 395.7L402.9 403.3" stroke="#3c6236" stroke-width="1.8" stroke-linecap="round"/><path d="M462.4 398.5L453.8 408.3" stroke="#5a8652" stroke-width="2.2" stroke-linecap="round"/><path d="M413.9 392.5L412.3 398.6" stroke="#5a8652" stroke-width="1.6" stroke-linecap="round"/><path d="M406.4 374.6L400.1 381.2" stroke="#4f7c48" stroke-width="1.7" stroke-linecap="round"/><path d="M406.8 371.7L411.4 380.9" stroke="#5a8652" stroke-width="1.4" stroke-linecap="round"/><path d="M403.8 402.9L401.7 412.4" stroke="#4f7c48" stroke-width="1.6" stroke-linecap="round"/><path d="M400.9 421.8L387.9 425.1" stroke="#3c6236" stroke-width="1.2" stroke-linecap="round"/><path d="M424.9 388.6L422.2 398.3" stroke="#3c6236" stroke-width="1.9" stroke-linecap="round"/><path d="M474.3 402.0L467.9 408.1" stroke="#5a8652" stroke-width="1.7" stroke-linecap="round"/><path d="M426.9 419.1L430.9 425.9" stroke="#4f7c48" stroke-width="1.9" stroke-linecap="round"/><path d="M418.9 398.3L428.3 405.4" stroke="#3c6236" stroke-width="1.0" stroke-linecap="round"/><path d="M433.0 394.4L439.4 398.9" stroke="#5a8652" stroke-width="1.2" stroke-linecap="round"/><path d="M400.6 394.6L407.4 406.6" stroke="#5a8652" stroke-width="1.3" stroke-linecap="round"/><path d="M454.3 386.5L459.7 388.1" stroke="#3c6236" stroke-width="1.9" stroke-linecap="round"/><path d="M437.5 421.6L431.4 424.2" stroke="#64905a" stroke-width="1.7" stroke-linecap="round"/><path d="M407.9 394.1L412.4 401.7" stroke="#64905a" stroke-width="1.4" stroke-linecap="round"/><path d="M402.9 392.5L411.3 394.5" stroke="#4f7c48" stroke-width="1.6" stroke-linecap="round"/><path d="M465.0 401.6L458.4 408.9" stroke="#4f7c48" stroke-width="1.4" stroke-linecap="round"/><path d="M448.9 394.5L454.4 399.0" stroke="#5a8652" stroke-width="1.6" stroke-linecap="round"/><path d="M400.2 388.8L401.7 395.9" stroke="#5a8652" stroke-width="1.8" stroke-linecap="round"/><path d="M436.9 388.0L442.1 389.5" stroke="#467040" stroke-width="1.1" stroke-linecap="round"/><path d="M431.8 405.1L429.3 410.0" stroke="#5a8652" stroke-width="1.6" stroke-linecap="round"/><path d="M447.0 404.4L455.6 408.3" stroke="#64905a" stroke-width="1.9" stroke-linecap="round"/><path d="M428.5 374.1L431.8 381.8" stroke="#3c6236" stroke-width="1.3" stroke-linecap="round"/><path d="M464.4 414.5L459.8 416.8" stroke="#64905a" stroke-width="2.0" stroke-linecap="round"/><path d="M441.0 374.5L451.0 379.3" stroke="#3c6236" stroke-width="1.2" stroke-linecap="round"/><path d="M400.6 406.0L389.9 411.2" stroke="#64905a" stroke-width="2.2" stroke-linecap="round"/><path d="M430.3 384.9L427.9 392.9" stroke="#467040" stroke-width="1.9" stroke-linecap="round"/><path d="M456.2 374.5L454.3 380.4" stroke="#64905a" stroke-width="1.9" stroke-linecap="round"/><path d="M442.2 410.6L448.8 419.9" stroke="#467040" stroke-width="1.0" stroke-linecap="round"/><path d="M413.8 379.7L411.5 389.5" stroke="#467040" stroke-width="1.9" stroke-linecap="round"/><path d="M429.2 394.3L434.5 398.7" stroke="#4f7c48" stroke-width="2.2" stroke-linecap="round"/><path d="M457.0 407.9L448.7 417.3" stroke="#3c6236" stroke-width="2.0" stroke-linecap="round"/><path d="M414.2 376.3L416.7 381.9" stroke="#3c6236" stroke-width="2.1" stroke-linecap="round"/><path d="M459.1 405.3L449.5 412.0" stroke="#467040" stroke-width="1.9" stroke-linecap="round"/><path d="M436.4 423.1L443.4 427.2" stroke="#4f7c48" stroke-width="1.3" stroke-linecap="round"/><path d="M415.2 411.6L425.2 419.8" stroke="#64905a" stroke-width="1.8" stroke-linecap="round"/><path d="M448.7 377.7L452.8 388.2" stroke="#467040" stroke-width="2.0" stroke-linecap="round"/><ellipse cx="450.7" cy="403.1" rx="1.8" ry="0.8" fill="#142812" transform="rotate(0)"/><ellipse cx="414.0" cy="377.9" rx="1.9" ry="1.0" fill="#142812" transform="rotate(0)"/><ellipse cx="458.0" cy="397.8" rx="1.7" ry="0.8" fill="#142812" transform="rotate(0)"/><ellipse cx="469.6" cy="398.1" rx="1.4" ry="1.1" fill="#142812" transform="rotate(0)"/><ellipse cx="403.9" cy="415.0" rx="1.8" ry="1.0" fill="#142812" transform="rotate(0)"/><ellipse cx="430.2" cy="387.6" rx="1.0" ry="1.1" fill="#142812" transform="rotate(0)"/><ellipse cx="444.0" cy="398.5" rx="1.5" ry="1.1" fill="#142812" transform="rotate(0)"/><ellipse cx="421.1" cy="409.8" rx="1.1" ry="0.6" fill="#142812" transform="rotate(0)"/><ellipse cx="473.0" cy="409.2" rx="1.2" ry="0.8" fill="#142812" transform="rotate(0)"/><ellipse cx="396.7" cy="412.9" rx="1.5" ry="0.6" fill="#142812" transform="rotate(0)"/><ellipse cx="399.5" cy="381.9" rx="2.0" ry="0.7" fill="#142812" transform="rotate(0)"/><ellipse cx="401.7" cy="420.1" rx="0.8" ry="0.8" fill="#142812" transform="rotate(0)"/><ellipse cx="444.2" cy="396.0" rx="1.4" ry="0.6" fill="#142812" transform="rotate(0)"/><ellipse cx="393.3" cy="388.1" rx="1.3" ry="1.0" fill="#142812" transform="rotate(0)"/><rect x="439.2" y="374" width="42.0" height="53" fill="url(#fadeR)"/></g></g><path d="M395.4 386.0L405.4 394.0M401.4 381.0L409.4 390.0M415.4 382.0L423.4 389.0M419.4 387.0L427.4 381.0M429.4 384.0L435.4 390.0" stroke="#4f7c48" stroke-width="2" stroke-linecap="round" opacity="0.6" filter="url(#bl10)"/></g><g transform="translate(395.28,452.60)" fill="#fff"><text x="0.00" y="0" font-size="28" font-weight="bold" transform="scale(1,1.03)">0.</text><text x="38.92" y="0" font-size="28" font-weight="bold" transform="scale(1,1.03)">0 s</text><path d="M30.69 0.00L35.45 0.00L35.45 -20.65L32.37 -20.65C31.47 -18.17 28.95 -16.15 25.73 -15.00L25.73 -10.67C27.69 -11.39 29.37 -12.40 30.69 -13.55Z"/></g>
<clipPath id="cpr4"><rect x="527.3" y="352.5" width="136" height="105.9"/></clipPath><mask id="mk4" maskUnits="userSpaceOnUse" x="527.3" y="352.5" width="136" height="105.9"><path d="M549.4 395.0 L552.7 390.1 L556.5 388.2 L559.9 388.6 L565.0 387.4 L568.6 391.8 L574.2 389.0 L578.2 391.7 L583.5 389.7 L586.8 383.6 L591.8 377.2 L595.9 375.6 L600.9 374.8 L604.9 377.7 L608.4 377.8 L614.0 374.7 L618.1 374.6 L622.0 376.2 L625.8 375.8 L631.4 376.7 L634.4 378.1 L637.8 380.4 L637.7 403.7 L637.8 424.0 L632.8 431.0 L625.1 430.2 L614.7 431.9 L605.6 431.0 L595.6 429.5 L587.5 429.8 L577.9 430.6 L568.6 430.7 L559.1 428.2 L549.4 421.0 L548.9 410.0Z" fill="#fff" filter="url(#bl25)"/></mask><g clip-path="url(#cpr4)"><rect x="527.3" y="352.5" width="136" height="105.9" fill="#060606"/><path d="M549.4 395.0 L552.7 390.1 L556.5 388.2 L559.9 388.6 L565.0 387.4 L568.6 391.8 L574.2 389.0 L578.2 391.7 L583.5 389.7 L586.8 383.6 L591.8 377.2 L595.9 375.6 L600.9 374.8 L604.9 377.7 L608.4 377.8 L614.0 374.7 L618.1 374.6 L622.0 376.2 L625.8 375.8 L631.4 376.7 L634.4 378.1 L637.8 380.4 L637.7 403.7 L637.8 424.0 L632.8 431.0 L625.1 430.2 L614.7 431.9 L605.6 431.0 L595.6 429.5 L587.5 429.8 L577.9 430.6 L568.6 430.7 L559.1 428.2 L549.4 421.0 L548.9 410.0Z" fill="#1d301d" filter="url(#bl30)"/><g mask="url(#mk4)"><g filter="url(#bl09)"><path d="M549.4 395.0 L552.7 390.1 L556.5 388.2 L559.9 388.6 L565.0 387.4 L568.6 391.8 L574.2 389.0 L578.2 391.7 L583.5 389.7 L586.8 383.6 L591.8 377.2 L595.9 375.6 L600.9 374.8 L604.9 377.7 L608.4 377.8 L614.0 374.7 L618.1 374.6 L622.0 376.2 L625.8 375.8 L631.4 376.7 L634.4 378.1 L637.8 380.4 L637.7 403.7 L637.8 424.0 L632.8 431.0 L625.1 430.2 L614.7 431.9 L605.6 431.0 L595.6 429.5 L587.5 429.8 L577.9 430.6 L568.6 430.7 L559.1 428.2 L549.4 421.0 L548.9 410.0Z" fill="#1d301d"/><ellipse cx="610.7" cy="397.2" rx="1.1" ry="1.3" fill="#0e180d" transform="rotate(0)"/><ellipse cx="630.1" cy="408.6" rx="2.2" ry="1.3" fill="#0e180d" transform="rotate(0)"/><ellipse cx="597.0" cy="389.8" rx="2.2" ry="1.4" fill="#0e180d" transform="rotate(0)"/><ellipse cx="566.4" cy="425.1" rx="1.1" ry="1.1" fill="#0e180d" transform="rotate(0)"/><ellipse cx="593.6" cy="402.3" rx="1.1" ry="1.1" fill="#0e180d" transform="rotate(0)"/><ellipse cx="606.9" cy="409.9" rx="1.2" ry="0.7" fill="#0e180d" transform="rotate(0)"/><ellipse cx="616.1" cy="399.2" rx="1.4" ry="1.4" fill="#0e180d" transform="rotate(0)"/><ellipse cx="635.1" cy="424.9" rx="1.6" ry="1.3" fill="#0e180d" transform="rotate(0)"/><ellipse cx="563.9" cy="426.9" rx="1.4" ry="1.1" fill="#0e180d" transform="rotate(0)"/><ellipse cx="598.6" cy="413.3" rx="1.1" ry="0.8" fill="#0e180d" transform="rotate(0)"/><ellipse cx="612.8" cy="422.9" rx="2.3" ry="1.3" fill="#0e180d" transform="rotate(0)"/><ellipse cx="553.4" cy="378.1" rx="1.2" ry="1.1" fill="#0e180d" transform="rotate(0)"/><ellipse cx="619.0" cy="429.2" rx="1.9" ry="0.7" fill="#0e180d" transform="rotate(0)"/><ellipse cx="637.7" cy="389.1" rx="1.9" ry="0.7" fill="#0e180d" transform="rotate(0)"/><ellipse cx="603.0" cy="415.1" rx="1.6" ry="1.3" fill="#0e180d" transform="rotate(0)"/><ellipse cx="634.0" cy="396.2" rx="1.8" ry="1.0" fill="#0e180d" transform="rotate(0)"/><ellipse cx="567.6" cy="379.5" rx="1.3" ry="0.7" fill="#0e180d" transform="rotate(0)"/><ellipse cx="591.8" cy="385.1" rx="2.2" ry="1.0" fill="#0e180d" transform="rotate(0)"/><ellipse cx="558.4" cy="377.7" rx="1.1" ry="1.0" fill="#0e180d" transform="rotate(0)"/><ellipse cx="550.3" cy="378.2" rx="1.7" ry="1.1" fill="#0e180d" transform="rotate(0)"/><ellipse cx="604.4" cy="428.7" rx="1.1" ry="1.1" fill="#0e180d" transform="rotate(0)"/><ellipse cx="626.2" cy="395.2" rx="2.4" ry="0.6" fill="#0e180d" transform="rotate(0)"/><ellipse cx="554.8" cy="404.8" rx="1.5" ry="0.7" fill="#0e180d" transform="rotate(0)"/><ellipse cx="562.1" cy="413.2" rx="1.6" ry="0.7" fill="#0e180d" transform="rotate(0)"/><ellipse cx="632.7" cy="425.0" rx="1.9" ry="0.6" fill="#0e180d" transform="rotate(0)"/><ellipse cx="573.2" cy="384.2" rx="1.1" ry="1.3" fill="#0e180d" transform="rotate(0)"/><ellipse cx="597.5" cy="423.1" rx="1.8" ry="0.7" fill="#0e180d" transform="rotate(0)"/><ellipse cx="628.7" cy="386.6" rx="2.1" ry="1.1" fill="#0e180d" transform="rotate(0)"/><ellipse cx="551.5" cy="429.9" rx="1.2" ry="0.8" fill="#0e180d" transform="rotate(0)"/><ellipse cx="592.5" cy="398.6" rx="1.2" ry="1.0" fill="#0e180d" transform="rotate(0)"/><path d="M569.6 421.8L575.6 425.8" stroke="#36523a" stroke-width="1.2" stroke-linecap="round"/><path d="M613.1 391.5L616.5 400.9" stroke="#36523a" stroke-width="1.2" stroke-linecap="round"/><path d="M623.5 402.0L615.4 412.6" stroke="#466646" stroke-width="1.8" stroke-linecap="round"/><path d="M614.7 396.8L612.9 401.6" stroke="#466646" stroke-width="1.3" stroke-linecap="round"/><path d="M584.5 385.8L587.0 399.2" stroke="#466646" stroke-width="1.4" stroke-linecap="round"/><path d="M571.5 417.0L577.6 428.1" stroke="#314a30" stroke-width="1.2" stroke-linecap="round"/><path d="M556.2 412.6L554.0 417.9" stroke="#314a30" stroke-width="1.2" stroke-linecap="round"/><path d="M592.1 384.5L596.6 395.5" stroke="#2a4228" stroke-width="1.7" stroke-linecap="round"/><path d="M593.5 425.8L598.2 435.1" stroke="#2a4228" stroke-width="1.0" stroke-linecap="round"/><path d="M554.4 410.4L559.6 418.5" stroke="#2a4228" stroke-width="1.7" stroke-linecap="round"/><path d="M555.6 381.6L560.4 387.5" stroke="#3e5c3c" stroke-width="1.7" stroke-linecap="round"/><path d="M622.3 381.6L615.7 383.2" stroke="#314a30" stroke-width="1.3" stroke-linecap="round"/><path d="M581.7 376.0L587.3 380.1" stroke="#2a4228" stroke-width="1.6" stroke-linecap="round"/><path d="M597.5 384.8L601.7 393.4" stroke="#3e5c3c" stroke-width="1.7" stroke-linecap="round"/><path d="M577.6 399.6L580.1 404.3" stroke="#314a30" stroke-width="1.2" stroke-linecap="round"/><path d="M619.4 415.0L614.2 419.5" stroke="#2a4228" stroke-width="1.6" stroke-linecap="round"/><path d="M575.8 385.6L585.1 390.1" stroke="#2a4228" stroke-width="1.7" stroke-linecap="round"/><path d="M605.6 404.6L600.9 411.9" stroke="#3e5c3c" stroke-width="1.9" stroke-linecap="round"/><path d="M617.4 417.8L626.9 426.7" stroke="#466646" stroke-width="1.5" stroke-linecap="round"/><path d="M602.7 410.9L598.3 419.8" stroke="#36523a" stroke-width="1.7" stroke-linecap="round"/><path d="M627.2 396.6L633.2 406.8" stroke="#36523a" stroke-width="1.3" stroke-linecap="round"/><path d="M611.8 426.5L610.3 433.2" stroke="#36523a" stroke-width="1.3" stroke-linecap="round"/><path d="M595.4 393.6L602.9 398.8" stroke="#3e5c3c" stroke-width="2.2" stroke-linecap="round"/><path d="M630.9 389.5L621.1 397.4" stroke="#2a4228" stroke-width="1.7" stroke-linecap="round"/><path d="M566.6 405.0L559.5 407.5" stroke="#3e5c3c" stroke-width="1.9" stroke-linecap="round"/><path d="M556.5 388.0L549.7 394.8" stroke="#2a4228" stroke-width="1.3" stroke-linecap="round"/><path d="M556.5 380.7L564.1 384.9" stroke="#466646" stroke-width="1.2" stroke-linecap="round"/><path d="M610.9 386.6L608.5 392.7" stroke="#36523a" stroke-width="1.0" stroke-linecap="round"/><path d="M566.9 419.9L557.6 422.2" stroke="#2a4228" stroke-width="2.1" stroke-linecap="round"/><path d="M610.0 407.5L607.4 419.5" stroke="#36523a" stroke-width="1.1" stroke-linecap="round"/><path d="M551.5 394.3L561.1 402.2" stroke="#466646" stroke-width="1.9" stroke-linecap="round"/><path d="M630.0 378.8L637.9 381.4" stroke="#2a4228" stroke-width="2.0" stroke-linecap="round"/><path d="M573.9 391.7L571.4 400.9" stroke="#2a4228" stroke-width="1.5" stroke-linecap="round"/><path d="M575.8 421.7L572.1 431.4" stroke="#3e5c3c" stroke-width="1.8" stroke-linecap="round"/><path d="M597.9 424.7L592.8 429.2" stroke="#2a4228" stroke-width="1.2" stroke-linecap="round"/><path d="M626.8 404.2L616.8 409.2" stroke="#3e5c3c" stroke-width="1.8" stroke-linecap="round"/><path d="M562.3 389.2L555.4 391.8" stroke="#2a4228" stroke-width="1.2" stroke-linecap="round"/><path d="M593.6 415.4L596.4 421.2" stroke="#314a30" stroke-width="2.2" stroke-linecap="round"/><path d="M609.8 381.5L603.2 386.3" stroke="#314a30" stroke-width="1.3" stroke-linecap="round"/><path d="M576.1 413.7L569.1 424.4" stroke="#2a4228" stroke-width="1.2" stroke-linecap="round"/><path d="M560.9 402.4L564.7 408.3" stroke="#314a30" stroke-width="1.4" stroke-linecap="round"/><path d="M602.0 424.5L594.0 429.6" stroke="#2a4228" stroke-width="1.9" stroke-linecap="round"/><path d="M583.6 387.2L579.0 390.3" stroke="#314a30" stroke-width="1.6" stroke-linecap="round"/><path d="M603.7 393.7L615.4 396.3" stroke="#36523a" stroke-width="2.0" stroke-linecap="round"/><path d="M554.7 383.7L562.2 395.3" stroke="#466646" stroke-width="1.6" stroke-linecap="round"/><path d="M575.0 426.1L567.3 435.8" stroke="#3e5c3c" stroke-width="1.8" stroke-linecap="round"/><path d="M601.5 387.7L597.8 391.5" stroke="#2a4228" stroke-width="1.7" stroke-linecap="round"/><path d="M567.3 398.5L563.2 411.5" stroke="#3e5c3c" stroke-width="1.6" stroke-linecap="round"/><path d="M596.6 418.4L604.9 425.6" stroke="#3e5c3c" stroke-width="1.7" stroke-linecap="round"/><path d="M595.9 418.4L604.4 424.1" stroke="#2a4228" stroke-width="1.7" stroke-linecap="round"/><path d="M621.3 417.1L610.0 422.3" stroke="#466646" stroke-width="2.1" stroke-linecap="round"/><path d="M595.7 403.1L603.1 407.5" stroke="#466646" stroke-width="1.2" stroke-linecap="round"/><path d="M577.0 381.2L582.4 385.3" stroke="#3e5c3c" stroke-width="1.0" stroke-linecap="round"/><path d="M614.2 404.5L607.0 406.9" stroke="#3e5c3c" stroke-width="2.0" stroke-linecap="round"/><path d="M635.8 409.8L637.7 418.8" stroke="#466646" stroke-width="2.1" stroke-linecap="round"/><path d="M571.1 394.1L563.7 404.6" stroke="#3e5c3c" stroke-width="1.6" stroke-linecap="round"/><path d="M632.1 398.4L641.7 403.0" stroke="#3e5c3c" stroke-width="1.1" stroke-linecap="round"/><path d="M593.6 387.5L602.3 397.0" stroke="#314a30" stroke-width="2.2" stroke-linecap="round"/><path d="M551.8 410.7L556.1 415.7" stroke="#466646" stroke-width="1.6" stroke-linecap="round"/><path d="M616.7 414.3L619.8 419.4" stroke="#36523a" stroke-width="2.1" stroke-linecap="round"/><path d="M603.8 400.8L607.0 410.3" stroke="#2a4228" stroke-width="1.0" stroke-linecap="round"/><path d="M576.6 375.8L586.8 384.5" stroke="#2a4228" stroke-width="2.0" stroke-linecap="round"/><path d="M568.3 399.4L573.8 401.2" stroke="#466646" stroke-width="1.4" stroke-linecap="round"/><path d="M633.0 409.8L635.6 415.1" stroke="#314a30" stroke-width="1.1" stroke-linecap="round"/><path d="M585.9 374.8L590.9 377.2" stroke="#2a4228" stroke-width="2.1" stroke-linecap="round"/><path d="M586.6 380.7L582.9 385.9" stroke="#466646" stroke-width="1.7" stroke-linecap="round"/><path d="M619.9 392.0L625.1 398.3" stroke="#2a4228" stroke-width="1.7" stroke-linecap="round"/><path d="M578.2 396.7L588.7 400.1" stroke="#466646" stroke-width="1.0" stroke-linecap="round"/><path d="M609.8 389.2L599.7 393.4" stroke="#314a30" stroke-width="2.0" stroke-linecap="round"/><path d="M617.9 407.9L616.6 413.6" stroke="#36523a" stroke-width="2.1" stroke-linecap="round"/><path d="M547.1 417.5L554.8 424.9" stroke="#36523a" stroke-width="2.2" stroke-linecap="round"/><path d="M589.4 380.5L597.9 386.6" stroke="#466646" stroke-width="1.3" stroke-linecap="round"/><path d="M580.2 387.1L587.6 396.7" stroke="#36523a" stroke-width="1.4" stroke-linecap="round"/><path d="M631.7 384.4L622.6 394.7" stroke="#314a30" stroke-width="2.1" stroke-linecap="round"/><path d="M627.6 425.4L637.8 431.3" stroke="#2a4228" stroke-width="1.3" stroke-linecap="round"/><path d="M586.6 422.7L580.6 428.0" stroke="#314a30" stroke-width="1.6" stroke-linecap="round"/><path d="M607.7 371.7L599.6 381.8" stroke="#2a4228" stroke-width="1.4" stroke-linecap="round"/><path d="M606.4 410.1L602.9 418.1" stroke="#2a4228" stroke-width="2.0" stroke-linecap="round"/><path d="M627.6 390.3L635.9 396.5" stroke="#314a30" stroke-width="1.1" stroke-linecap="round"/><path d="M603.0 381.7L600.6 388.8" stroke="#2a4228" stroke-width="1.8" stroke-linecap="round"/><path d="M590.4 374.9L578.9 378.7" stroke="#466646" stroke-width="2.1" stroke-linecap="round"/><path d="M574.5 393.8L582.7 396.3" stroke="#2a4228" stroke-width="2.1" stroke-linecap="round"/><path d="M564.6 404.3L576.6 408.1" stroke="#36523a" stroke-width="2.0" stroke-linecap="round"/><path d="M637.1 403.6L625.6 409.2" stroke="#466646" stroke-width="1.7" stroke-linecap="round"/><path d="M565.5 372.7L568.0 382.7" stroke="#466646" stroke-width="1.8" stroke-linecap="round"/><path d="M618.1 419.6L623.1 426.6" stroke="#466646" stroke-width="1.5" stroke-linecap="round"/><path d="M546.5 396.4L552.2 397.9" stroke="#314a30" stroke-width="1.2" stroke-linecap="round"/><path d="M558.0 377.9L554.8 383.9" stroke="#36523a" stroke-width="2.0" stroke-linecap="round"/><path d="M636.8 383.7L631.7 395.1" stroke="#314a30" stroke-width="2.0" stroke-linecap="round"/><path d="M567.5 403.1L569.4 412.5" stroke="#3e5c3c" stroke-width="2.0" stroke-linecap="round"/><path d="M576.6 371.1L583.3 381.3" stroke="#2a4228" stroke-width="1.9" stroke-linecap="round"/><path d="M571.6 424.2L575.5 429.6" stroke="#3e5c3c" stroke-width="1.8" stroke-linecap="round"/><path d="M638.2 375.8L632.1 377.5" stroke="#314a30" stroke-width="1.5" stroke-linecap="round"/><path d="M574.5 412.0L570.3 415.5" stroke="#3e5c3c" stroke-width="2.0" stroke-linecap="round"/><path d="M545.7 423.5L553.5 433.8" stroke="#314a30" stroke-width="2.0" stroke-linecap="round"/><path d="M611.9 378.6L615.8 383.8" stroke="#466646" stroke-width="1.3" stroke-linecap="round"/><path d="M581.0 384.8L583.3 390.3" stroke="#2a4228" stroke-width="1.3" stroke-linecap="round"/><path d="M560.6 403.4L558.2 409.5" stroke="#466646" stroke-width="1.3" stroke-linecap="round"/><path d="M633.0 395.1L642.1 398.9" stroke="#314a30" stroke-width="2.2" stroke-linecap="round"/><path d="M575.9 417.9L567.6 426.2" stroke="#36523a" stroke-width="1.2" stroke-linecap="round"/><path d="M555.1 392.9L560.1 403.4" stroke="#314a30" stroke-width="1.9" stroke-linecap="round"/><path d="M566.9 427.8L577.6 432.6" stroke="#466646" stroke-width="2.1" stroke-linecap="round"/><path d="M610.3 398.1L600.8 406.5" stroke="#36523a" stroke-width="1.3" stroke-linecap="round"/><path d="M618.7 376.4L625.2 385.5" stroke="#466646" stroke-width="1.8" stroke-linecap="round"/><path d="M561.3 412.9L551.4 420.8" stroke="#466646" stroke-width="2.1" stroke-linecap="round"/><path d="M618.7 419.1L611.4 427.0" stroke="#314a30" stroke-width="1.9" stroke-linecap="round"/><path d="M574.0 414.0L575.9 422.5" stroke="#466646" stroke-width="2.2" stroke-linecap="round"/><path d="M552.9 423.9L547.5 427.7" stroke="#3e5c3c" stroke-width="1.9" stroke-linecap="round"/><path d="M626.0 415.2L634.9 418.7" stroke="#3e5c3c" stroke-width="1.7" stroke-linecap="round"/><path d="M622.6 425.7L614.2 434.7" stroke="#466646" stroke-width="1.6" stroke-linecap="round"/><path d="M589.0 398.7L580.3 405.5" stroke="#466646" stroke-width="1.9" stroke-linecap="round"/><path d="M604.7 403.4L608.1 408.6" stroke="#314a30" stroke-width="2.1" stroke-linecap="round"/><path d="M554.5 408.9L549.8 416.0" stroke="#314a30" stroke-width="1.6" stroke-linecap="round"/><path d="M639.8 388.5L635.9 393.5" stroke="#3e5c3c" stroke-width="1.7" stroke-linecap="round"/><path d="M587.9 404.8L593.6 411.6" stroke="#2a4228" stroke-width="1.5" stroke-linecap="round"/><path d="M569.8 397.2L568.1 405.6" stroke="#3e5c3c" stroke-width="1.5" stroke-linecap="round"/><path d="M629.6 423.2L632.3 435.4" stroke="#3e5c3c" stroke-width="1.4" stroke-linecap="round"/><path d="M602.9 403.2L604.6 408.0" stroke="#2a4228" stroke-width="1.8" stroke-linecap="round"/><path d="M564.2 412.7L555.8 420.1" stroke="#3e5c3c" stroke-width="1.8" stroke-linecap="round"/><path d="M600.5 427.4L588.5 434.5" stroke="#3e5c3c" stroke-width="1.8" stroke-linecap="round"/><path d="M592.8 409.7L588.0 412.9" stroke="#3e5c3c" stroke-width="2.0" stroke-linecap="round"/><path d="M626.4 396.5L623.8 407.0" stroke="#2a4228" stroke-width="1.4" stroke-linecap="round"/><path d="M569.6 383.9L568.3 391.3" stroke="#2a4228" stroke-width="2.0" stroke-linecap="round"/><path d="M592.6 393.1L599.8 403.6" stroke="#3e5c3c" stroke-width="1.9" stroke-linecap="round"/><path d="M568.2 422.2L579.6 429.1" stroke="#3e5c3c" stroke-width="2.0" stroke-linecap="round"/><path d="M616.4 376.1L621.2 380.6" stroke="#2a4228" stroke-width="1.4" stroke-linecap="round"/><path d="M624.3 390.5L620.0 398.4" stroke="#36523a" stroke-width="1.3" stroke-linecap="round"/><path d="M606.3 387.6L601.3 389.9" stroke="#314a30" stroke-width="1.1" stroke-linecap="round"/><path d="M620.6 429.1L609.3 432.9" stroke="#314a30" stroke-width="1.9" stroke-linecap="round"/><path d="M595.1 402.3L601.0 409.1" stroke="#3e5c3c" stroke-width="1.7" stroke-linecap="round"/><path d="M577.8 375.4L583.7 382.8" stroke="#2a4228" stroke-width="1.8" stroke-linecap="round"/><path d="M581.8 398.5L588.8 404.5" stroke="#314a30" stroke-width="1.7" stroke-linecap="round"/><path d="M619.1 402.5L627.0 404.6" stroke="#466646" stroke-width="1.6" stroke-linecap="round"/><path d="M583.3 380.1L593.4 382.3" stroke="#314a30" stroke-width="1.7" stroke-linecap="round"/><path d="M613.8 375.6L605.0 380.9" stroke="#36523a" stroke-width="2.1" stroke-linecap="round"/><path d="M632.2 388.3L627.7 395.6" stroke="#3e5c3c" stroke-width="2.0" stroke-linecap="round"/><path d="M546.8 381.0L556.2 387.9" stroke="#466646" stroke-width="1.7" stroke-linecap="round"/><path d="M578.6 402.9L574.6 410.1" stroke="#3e5c3c" stroke-width="1.6" stroke-linecap="round"/><path d="M576.5 400.4L569.7 406.0" stroke="#314a30" stroke-width="1.0" stroke-linecap="round"/><path d="M573.5 389.3L583.9 394.0" stroke="#2a4228" stroke-width="2.2" stroke-linecap="round"/><path d="M632.9 416.2L628.5 425.9" stroke="#2a4228" stroke-width="2.1" stroke-linecap="round"/><path d="M629.4 385.7L624.8 395.7" stroke="#466646" stroke-width="2.1" stroke-linecap="round"/><path d="M559.1 392.5L550.7 396.7" stroke="#466646" stroke-width="1.5" stroke-linecap="round"/><path d="M596.6 389.0L587.8 391.3" stroke="#314a30" stroke-width="1.5" stroke-linecap="round"/><path d="M614.6 376.8L612.4 382.7" stroke="#466646" stroke-width="1.4" stroke-linecap="round"/><path d="M569.2 404.3L566.1 409.9" stroke="#466646" stroke-width="2.0" stroke-linecap="round"/><path d="M566.9 402.1L557.0 407.6" stroke="#466646" stroke-width="1.2" stroke-linecap="round"/><path d="M625.8 382.1L633.0 393.4" stroke="#3e5c3c" stroke-width="2.0" stroke-linecap="round"/><path d="M566.6 402.7L569.1 408.7" stroke="#314a30" stroke-width="1.3" stroke-linecap="round"/><path d="M617.7 398.4L616.0 404.3" stroke="#2a4228" stroke-width="1.4" stroke-linecap="round"/><path d="M621.6 422.7L615.6 425.0" stroke="#36523a" stroke-width="1.8" stroke-linecap="round"/><path d="M563.3 410.7L568.9 412.2" stroke="#3e5c3c" stroke-width="2.0" stroke-linecap="round"/><path d="M549.8 387.8L555.3 396.8" stroke="#2a4228" stroke-width="2.1" stroke-linecap="round"/><path d="M620.4 422.0L619.1 428.6" stroke="#466646" stroke-width="1.4" stroke-linecap="round"/><path d="M621.8 423.1L612.1 428.5" stroke="#314a30" stroke-width="1.5" stroke-linecap="round"/><path d="M605.6 382.8L614.5 390.3" stroke="#36523a" stroke-width="1.8" stroke-linecap="round"/><path d="M600.1 380.8L596.5 385.0" stroke="#3e5c3c" stroke-width="2.0" stroke-linecap="round"/><path d="M609.4 408.8L617.4 414.1" stroke="#3e5c3c" stroke-width="1.6" stroke-linecap="round"/><path d="M557.9 400.3L550.3 407.1" stroke="#466646" stroke-width="1.9" stroke-linecap="round"/><path d="M622.1 383.2L609.5 386.9" stroke="#36523a" stroke-width="1.9" stroke-linecap="round"/><path d="M587.8 420.6L591.1 432.8" stroke="#2a4228" stroke-width="2.0" stroke-linecap="round"/><path d="M565.4 391.4L575.1 397.7" stroke="#314a30" stroke-width="1.6" stroke-linecap="round"/><path d="M557.9 370.7L562.0 384.1" stroke="#314a30" stroke-width="1.2" stroke-linecap="round"/><path d="M588.3 409.7L601.2 414.2" stroke="#466646" stroke-width="1.6" stroke-linecap="round"/><path d="M565.4 402.6L571.7 408.5" stroke="#466646" stroke-width="2.1" stroke-linecap="round"/><path d="M568.3 420.0L572.6 422.8" stroke="#3e5c3c" stroke-width="1.3" stroke-linecap="round"/><path d="M545.1 379.7L556.6 382.9" stroke="#36523a" stroke-width="1.6" stroke-linecap="round"/><path d="M591.5 424.6L584.6 435.6" stroke="#314a30" stroke-width="2.1" stroke-linecap="round"/><path d="M623.6 406.3L633.1 410.6" stroke="#314a30" stroke-width="1.8" stroke-linecap="round"/><path d="M599.4 384.2L603.1 392.7" stroke="#314a30" stroke-width="1.2" stroke-linecap="round"/><ellipse cx="602.3" cy="387.8" rx="1.1" ry="0.5" fill="#0e180d" transform="rotate(0)"/><ellipse cx="590.6" cy="414.2" rx="1.6" ry="1.0" fill="#0e180d" transform="rotate(0)"/><ellipse cx="635.3" cy="394.2" rx="2.0" ry="0.9" fill="#0e180d" transform="rotate(0)"/><ellipse cx="588.9" cy="386.7" rx="1.8" ry="0.8" fill="#0e180d" transform="rotate(0)"/><ellipse cx="602.1" cy="423.7" rx="2.0" ry="1.2" fill="#0e180d" transform="rotate(0)"/><ellipse cx="566.1" cy="418.8" rx="0.8" ry="0.6" fill="#0e180d" transform="rotate(0)"/><ellipse cx="601.7" cy="381.8" rx="1.9" ry="0.5" fill="#0e180d" transform="rotate(0)"/><ellipse cx="632.7" cy="415.6" rx="0.9" ry="0.7" fill="#0e180d" transform="rotate(0)"/><ellipse cx="574.2" cy="428.7" rx="1.1" ry="0.9" fill="#0e180d" transform="rotate(0)"/><ellipse cx="572.4" cy="421.3" rx="1.1" ry="0.5" fill="#0e180d" transform="rotate(0)"/><ellipse cx="567.0" cy="418.9" rx="0.9" ry="0.6" fill="#0e180d" transform="rotate(0)"/><ellipse cx="564.6" cy="427.4" rx="1.3" ry="0.9" fill="#0e180d" transform="rotate(0)"/><ellipse cx="563.5" cy="414.6" rx="1.5" ry="0.7" fill="#0e180d" transform="rotate(0)"/><ellipse cx="607.2" cy="382.0" rx="0.9" ry="0.8" fill="#0e180d" transform="rotate(0)"/><rect x="598.0" y="376" width="44.5" height="55" fill="url(#fadeR)"/></g></g><path d="M551.4 387.0L561.4 395.0M557.4 382.0L565.4 391.0M571.4 383.0L579.4 390.0M575.4 388.0L583.4 382.0M585.4 385.0L591.4 391.0" stroke="#36523a" stroke-width="2" stroke-linecap="round" opacity="0.6" filter="url(#bl10)"/></g><g transform="translate(556.38,452.50)" fill="#fff"><text x="0.00" y="0" font-size="28" font-weight="bold" transform="scale(1,1.03)">0.</text><text x="38.92" y="0" font-size="28" font-weight="bold" transform="scale(1,1.03)">5 s</text><path d="M30.69 0.00L35.45 0.00L35.45 -20.65L32.37 -20.65C31.47 -18.17 28.95 -16.15 25.73 -15.00L25.73 -10.67C27.69 -11.39 29.37 -12.40 30.69 -13.55Z"/></g>
<g transform="translate(-1.1,0) scale(1.05,1)"><g transform="translate(0.00,500.80)" fill="#000" stroke="#000" stroke-width="0.4"><text x="0.00" y="0" font-size="34.8">(c)</text></g></g>
<text transform="translate(41.2,727.8) rotate(-90) scale(1,1.03)" font-size="30.0" stroke="#000" stroke-width="0.4">Intensity / a.u.</text>
<path d="M103.85 528.5V719.7M103.1 719H648.3" stroke="#000" stroke-width="1.5" fill="none"/>
<path d="M103.8 535.0H115.4M103.8 614.4H115.4M103.8 695.5H115.4M103.7 719V707.3M158.1 719V713.0M212.5 719V707.3M266.9 719V713.0M321.3 719V707.3M375.7 719V713.0M430.2 719V707.3M484.6 719V713.0M539.0 719V707.3M593.4 719V713.0M647.8 719V707.3" stroke="#000" stroke-width="1.3" fill="none"/>
<g transform="translate(45.81,543.60)" fill="#000" stroke="#000" stroke-width="0.4"><text x="17.80" y="0" font-size="32" transform="scale(1,1.04)">00</text><path d="M9.12 0.00L11.94 0.00L11.94 -23.83L10.11 -23.83C9.25 -22.03 7.33 -19.90 5.02 -18.50C4.51 -18.17 4.00 -17.87 3.49 -17.64L3.49 -14.81C5.63 -15.74 7.58 -16.97 9.12 -18.64Z"/></g>
<g transform="translate(63.21,623.90)" fill="#000" stroke="#000" stroke-width="0.4"><text x="17.80" y="0" font-size="32" transform="scale(1,1.04)">0</text><path d="M9.12 0.00L11.94 0.00L11.94 -23.83L10.11 -23.83C9.25 -22.03 7.33 -19.90 5.02 -18.50C4.51 -18.17 4.00 -17.87 3.49 -17.64L3.49 -14.81C5.63 -15.74 7.58 -16.97 9.12 -18.64Z"/></g>
<g transform="translate(80.81,704.00)" fill="#000" stroke="#000" stroke-width="0.4"><path d="M9.12 0.00L11.94 0.00L11.94 -23.83L10.11 -23.83C9.25 -22.03 7.33 -19.90 5.02 -18.50C4.51 -18.17 4.00 -17.87 3.49 -17.64L3.49 -14.81C5.63 -15.74 7.58 -16.97 9.12 -18.64Z"/></g>
<g transform="translate(95.30,746.80)" fill="#000" stroke="#000" stroke-width="0.4"><text x="0.00" y="0" font-size="30.2" transform="scale(1,1.04)">0</text></g>
<g transform="translate(204.12,746.80)" fill="#000" stroke="#000" stroke-width="0.4"><text x="0.00" y="0" font-size="30.2" transform="scale(1,1.04)">2</text></g>
<g transform="translate(312.94,746.80)" fill="#000" stroke="#000" stroke-width="0.4"><text x="0.00" y="0" font-size="30.2" transform="scale(1,1.04)">4</text></g>
<g transform="translate(421.76,746.80)" fill="#000" stroke="#000" stroke-width="0.4"><text x="0.00" y="0" font-size="30.2" transform="scale(1,1.04)">6</text></g>
<g transform="translate(530.58,746.80)" fill="#000" stroke="#000" stroke-width="0.4"><text x="0.00" y="0" font-size="30.2" transform="scale(1,1.04)">8</text></g>
<g transform="translate(631.00,746.80)" fill="#000" stroke="#000" stroke-width="0.4"><text x="16.80" y="0" font-size="30.2" transform="scale(1,1.04)">0</text><path d="M8.61 0.00L11.26 0.00L11.26 -22.49L9.54 -22.49C8.73 -20.79 6.92 -18.78 4.74 -17.46C4.26 -17.15 3.77 -16.87 3.29 -16.65L3.29 -13.98C5.32 -14.86 7.16 -16.02 8.61 -17.59Z"/></g>
<g transform="translate(322.04,773.90)" fill="#000" stroke="#000" stroke-width="0.4"><text x="0.00" y="0" font-size="30.2" transform="scale(1,1.03)">Time / s</text></g>
<path d="M104 538.4l0.5 2.8 0.5 3.8 0.5 4.6 0.5 5.7 0.5 4.4 0.5 4.5 0.5 3.2 0.5 3.8 0.5 1.8 0.5 5 0.5 1.9 0.5 3.3 0.5 2.1 0.5 2.4 0.5 3.1 0.5 2.7 0.5 1.8 0.5 2.7 0.5 3.2 0.5 1.4 0.5 2.1 0.5 4 0.5 1.6 0.5 1.3 0.5 3 0.5 2.4 0.5 1.4 0.5 1.7 0.5 3.2 0.5 2.7 0.5 0.6 0.5 1.1 0.5 2.6 0.5 1.7 0.5 0.4 0.5 2.2 0.5 1.8 0.5 -0.2 0.5 0.5 0.5 2.5 0.5 0.9 0.5 2.1 0.3 -2.1 0.4 1.3 0.3 0.5 0.3 -0.5 0.3 2.9 0.4 1.1 0.3 -1 0.3 3.2 0.4 -0.1 0.3 0.3 0.3 0.3 0.4 1.3 0.3 -2.5 0.3 3.1 0.3 0.5 0.4 -2.7 0.3 3.4 0.3 -0.3 0.4 1.9 0.3 -1.2 0.3 1.1 0.4 1 0.3 -1.2 0.3 2.6 0.3 -0.5 0.4 1.3 0.3 -1 0.3 2.9 0.4 -0.3 0.3 -0.7 0.3 1.7 0.4 1.4 0.3 1.3 0.3 -4.6 0.3 4.1 0.4 -0.1 0.3 -0.4 0.3 -1 0.4 3.8 0.3 -3.3 0.3 3.1 0.4 1.5 0.3 -3.9 0.3 2.3 0.3 -1.2 0.4 2.7 0.3 2.3 0.3 1.1 0.4 -5.3 0.3 2.1 0.3 2.3 0.4 1.6 0.3 -1.4 0.3 -1.4 0.3 1.9 0.4 -0.2 0.3 0.1 0.3 -0.5 0.4 2 0.3 0.2 0.3 -0.3 0.4 0.1 0.3 -1.3 0.3 1.5 0.3 2.8 0.4 -1.8 0.3 -1.6 0.3 4.4 0.4 -1 0.3 2.7 0.3 -2.9 0.4 -0.5 0.3 -1.3 0.3 4.4 0.3 2.1 0.4 -4.9 0.3 0.5 0.3 2.1 0.4 -2 0.3 1 0.3 0.1 0.4 1 0.3 1.5 0.3 -1.4 0.3 1.5 0.4 -1.8 0.3 1.3 0.3 -3.5 0.4 1.1 0.3 3.6 0.3 -1.9 0.4 1.9 0.3 0.1 0.3 1.3 0.3 -0.6 0.4 0.4 0.3 -1.5 0.3 -0.8 0.4 0.1 0.3 0.5 0.3 -0.8 0.4 0.5 0.3 1.3 0.3 0.7 0.3 -0.8 0.4 -2.2 0.3 2.9 0.3 0.6 0.4 1.4 0.3 -0.7 0.3 -1.7 0.4 0.1 0.3 4.2 0.3 -1.8 0.3 1.8 0.4 0.5 0.3 -4.3 0.3 2 0.4 0.2 0.3 0.3 0.3 0.1 0.4 -0.4 0.3 0.1 0.3 -2.4 0.3 2.1 0.4 -0.8 0.3 1.5 0.3 -0.8 0.4 1.7 0.3 0.5 0.3 -0.7 0.4 0.1 0.3 -0.2 0.3 -0.7 0.3 0.5 0.4 -0.4 0.3 1.5 0.3 -0.5 0.4 1 0.3 -2.8 0.3 3.4 0.4 -2.3 0.3 0.1 0.3 0.9 0.3 -0.4 0.4 1.4 0.3 -1.2 0.3 -0.7 0.4 0.4 0.3 3.4 0.3 -1.8 0.4 -1.7 0.3 1.8 0.3 -2.2 0.3 5.1 0.4 -4.9 0.3 3.1 0.3 0.2 0.4 -2.9 0.3 2.7 0.3 1.1 0.4 -0.7 0.3 -0.2 0.3 1.1 0.3 -1.1 0.4 0.4 0.3 -0.6 0.3 1.2 0.4 -2.3 0.3 2.7 0.3 -1.8 0.4 -0.8 0.3 2.2 0.3 2.1 0.3 -1 0.4 -2.2 0.3 1.9 0.3 -1.6 0.4 0.6 0.3 0.4 0.3 -3.6 0.4 3.9 0.3 -1.8 0.3 0.6 0.3 -1.1 0.4 0 0.3 0.9 0.3 2.7 0.4 1.4 0.3 -2.5 0.3 1.7 0.4 -1.9 0.3 -2.4 0.3 3.1 0.3 0.5 0.4 -1.2 0.3 1.1 0.3 0.5 0.4 -2.1 0.3 -0.9 0.3 2 0.4 0 0.3 -0.1 0.3 2 0.3 1.2 0.4 -3.2 0.3 1.8 0.3 0.4 0.4 -0.3 0.3 0.5 0.3 -2.1 0.4 1.8 0.3 2 0.3 -1.8 0.3 -2.1 0.4 1.9 0.3 1 0.3 -1.3 0.4 -1.3 0.3 3.2 0.3 -4.2 0.4 2.7 0.3 -0.7 0.3 -1.7 0.3 3.6 0.4 -1.2 0.3 -2.3 0.3 2.8 0.4 -1.6 0.3 -2.1 0.3 1.9 0.4 1.4 0.3 -1.7 0.3 1.7 0.3 -0.1 0.4 0.6 0.3 -0.9 0.3 2.1 0.4 -1.5 0.3 0.3 0.3 0.4 0.4 -2.4 0.3 0.6 0.3 3.4 0.3 -1.7 0.4 -0.9 0.3 1 0.3 -1.2 0.4 1.2 0.3 -1.4 0.3 1.4 0.4 -2.7 0.3 4.4 0.3 -2.7 0.3 -1.6 0.4 2.1 0.3 -0.2 0.3 0.9 0.4 -2 0.3 2.4 0.3 5 0.4 -7.5 0.3 2.5 0.3 -0.9 0.3 0.8 0.4 -3 0.3 1 0.3 2.5 0.4 -0.7 0.3 2.6 0.3 -3.5 0.4 1.4 0.3 4.2 0.3 -5.6 0.3 -0.2 0.4 1.4 0.3 0 0.3 1.4 0.4 -1 0.3 -1.4 0.3 1.6 0.4 3.8 0.3 -2.1 0.3 -6.3 0.3 4.2 0.4 -1.1 0.3 2.3 0.3 -1.2 0.4 3.3 0.3 -1.5 0.3 0 0.4 -1.1 0.3 -0.3 0.3 0.6 0.3 1.6 0.4 -1.2 0.3 -1.4 0.3 2.6 0.4 -1.7 0.3 -0.4 0.3 -1.1 0.4 0.4 0.3 -0.1 0.3 -3.3 0.3 6 0.4 -0.7 0.3 -1.2 0.3 2 0.4 -0.9 0.3 -0.1 0.3 -4.5 0.4 3.6 0.3 1.2 0.3 1.7 0.3 0.4 0.4 -0.6 0.3 -4.1 0.3 -1.7 0.4 4.5 0.3 -0.9 0.3 -2.5 0.4 -0.8 0.3 3.7 0.3 -2.8 0.3 3.2 0.4 -1.5 0.3 1.3 0.3 0.2 0.4 -0.9 0.3 0.7 0.3 -0.5 0.4 1.3 0.3 -0.4 0.3 -1.7 0.3 -0.1 0.4 3.8 0.3 -3 0.3 1.8 0.4 -0.9 0.3 -1.6 0.3 -0.3 0.4 1.5 0.3 0.2 0.3 0.6 0.3 -3 0.4 1.1 0.3 0.8 0.3 2.7 0.4 -6.4 0.3 4.6 0.3 -1.6 0.4 1.6 0.3 -1.5 0.3 1.4 0.3 2 0.4 -2 0.3 0.2 0.3 -0.1 0.4 -1.8 0.3 2.1 0.3 -1.2 0.4 -1 0.3 1.3 0.3 -0.3 0.3 1.6 0.4 -1.3 0.3 -0.7 0.3 3.2 0.4 -0.7 0.3 0.5 0.3 -5.3 0.4 3 0.3 -0.5 0.3 0.3 0.3 2 0.4 -1.4 0.3 -2.6 0.3 2.4 0.4 -7.2 0.3 7.6 0.3 -2.3 0.4 0 0.3 2.3 0.3 -0.3 0.3 -2.7 0.4 4.1 0.3 2.3 0.3 -6 0.4 5.5 0.3 -4.2 0.3 0.4 0.4 0.5 0.3 -2.1 0.3 4.6 0.3 -1.3 0.4 -2.1 0.3 0.8 0.3 -2 0.4 1.9 0.3 2.2 0.3 -4.4 0.4 2.1 0.3 1 0.3 1.5 0.3 0.6 0.4 -3 0.3 -0.5 0.3 2 0.4 -1.3 0.3 0.1 0.3 2.3 0.4 1.1 0.3 -2.4 0.3 -0.8 0.3 1.4 0.4 -4.2 0.3 3.2 0.3 -1.7 0.4 5.8 0.3 -2.8 0.3 -1 0.4 -0.5 0.3 -3.9 0.3 5.5 0.3 1.5 0.4 -3.9 0.3 2.4 0.3 0.1 0.4 -3.9 0.3 4.3 0.3 0.7 0.4 -1.9 0.3 -0.5 0.3 1.5 0.3 -3.9 0.4 2.8 0.3 1.6 0.3 -3.9 0.4 3.9 0.3 -2.4 0.3 -2.8 0.4 3.4 0.3 -1.5 0.3 2.2 0.3 -2.5 0.4 3.8 0.3 -3 0.3 1.9 0.4 -1.6 0.3 0.4 0.3 2.7 0.4 -1.7 0.3 -1 0.3 -1.5 0.3 4.2 0.4 -0.7 0.3 -1.8 0.3 1 0.4 -2.2 0.3 0 0.3 0.4 0.4 2 0.3 -0.1 0.3 -1.7 0.3 2.5 0.4 0.1 0.3 -1 0.3 1.5 0.4 -2.3 0.3 0.3 0.3 1.1 0.4 -0.9 0.3 1.5 0.3 -3.6 0.3 4.7 0.4 -3.8 0.3 1 0.3 -2.1 0.4 -2.5 0.3 7.2 0.3 -0.3 0.4 -0.4 0.3 -4.2 0.3 1.3 0.3 0.6 0.4 -0.8 0.3 3.6 0.3 -1.6 0.4 -0.4 0.3 -3.6 0.3 2 0.4 0.1 0.3 0.1 0.3 2.4 0.3 -0.3 0.4 0.5 0.3 0.8 0.3 -4.2 0.4 1.4 0.3 1.2 0.3 -2.6 0.4 1.4 0.3 2.8 0.3 0.2 0.3 -0.1 0.4 -1.8 0.3 -0.5 0.3 2.4 0.4 -2.6 0.3 1.3 0.3 1.7 0.4 -3 0.3 -0.4 0.3 1.1 0.3 1.1 0.4 -0.2 0.3 -0.6 0.3 -6.3 0.4 3.2 0.3 1.3 0.3 1.8 0.4 -1.9 0.3 -0.8 0.3 0.3 0.3 0.5 0.4 1.4 0.3 -1.6 0.3 2.3 0.4 2.6 0.3 -3.3 0.3 2.6 0.4 -1.8 0.3 -2.5 0.3 1.6 0.3 -1.3 0.4 3.1 0.3 -3.4 0.3 4.5 0.4 -1.4 0.3 -4.7 0.3 5.1 0.4 1.4 0.3 -4.2 0.3 3.2 0.3 -5 0.4 3.7 0.3 -3.5 0.3 3.9 0.4 -4.1 0.3 -1.5 0.3 5.5 0.4 3.5 0.3 -5.3 0.3 2.6 0.3 -1.3 0.4 -0.8 0.3 1.8 0.3 1.9 0.4 -5.3 0.3 3.3 0.3 -0.4 0.4 -3.2 0.3 5.6 0.3 0.6 0.3 -5.3 0.4 4.9 0.3 -3 0.3 -0.4 0.4 3.1 0.3 -2.4 0.3 0.2 0.4 2.2 0.3 -0.4 0.3 -0.7 0.3 -4.2 0.4 -0.3 0.3 5 0.3 -3.8 0.4 2 0.3 -2.2 0.3 1.6 0.4 -2 0.3 5.4 0.3 -4.8 0.3 1.6 0.4 -0.1 0.3 2.6 0.3 -4.8 0.4 2.6 0.3 -0.3 0.3 1.4 0.4 -0.1 0.3 -1.7 0.3 1.3 0.3 -1.1 0.4 1.6 0.3 -1.1 0.3 -1 0.4 1.2 0.3 -7.2 0.3 11.6 0.4 -5.2 0.3 1.6 0.3 2.2 0.3 -6.7 0.4 0.7 0.3 1.1 0.3 2 0.4 4.8 0.3 -3.8 0.3 1.6 0.4 -2.7 0.3 -4.2 0.3 0.3 0.3 6.3 0.4 -1.5 0.3 -2.8 0.3 4.6 0.4 -11.2 0.3 11.3 0.3 0.6 0.4 -4.1 0.3 -0.7 0.3 3.8 0.3 -3.7 0.4 3.8 0.3 -3.9 0.3 3.8 0.4 -1.3 0.3 -1 0.3 -0.8 0.4 2.1 0.3 -4 0.3 3.1 0.3 -0.2 0.4 2.1 0.3 -3.7 0.3 5.7 0.4 -3.8 0.3 -1.6 0.3 4.9 0.4 0.5 0.3 -3.5 0.3 -1.3 0.3 1.8 0.4 -1.4 0.3 0.8 0.3 3.6 0.4 -2.2 0.3 -0.5 0.3 0.4 0.4 -0.7 0.3 1.8 0.3 0 0.3 -2.3 0.4 0.9 0.3 4.5 0.3 -3.8 0.4 -1.2 0.3 4.3 0.3 -3.9 0.4 -2.1 0.3 3.5 0.3 -3.1 0.3 0.8 0.4 1.6 0.3 -0.8 0.3 -1.2 0.4 0.4 0.3 -0.1 0.3 3.5 0.4 -3.7 0.3 0.3 0.3 5.1 0.3 -5 0.4 4 0.3 -0.3 0.3 -2.9 0.4 -2.4 0.3 3.7 0.3 0.4 0.4 -4.4 0.3 3.3 0.3 2.2 0.3 0.4 0.4 -4.8 0.3 4.9 0.3 -2.4 0.4 -1.5 0.3 0.5 0.3 4.3 0.4 -1.7 0.3 -5.4 0.3 3.7 0.3 -0.4 0.4 -0.1 0.3 -0.6 0.3 -1.9 0.4 4.6 0.3 -3.5 0.3 1.1 0.4 -0.4 0.3 -0.3 0.3 2.9 0.3 -0.6 0.4 -2.1 0.3 -0.5 0.3 0.9 0.4 2.9 0.3 -1.7 0.3 0.3 0.4 -1.1 0.3 0.1 0.3 1 0.3 -4.1 0.4 6.9 0.3 -4.8 0.3 0.5 0.4 3.8 0.3 -2.2 0.3 -0.4 0.4 -1.2 0.3 -1.9 0.3 3.5 0.3 2 0.4 -4.2 0.3 4.6 0.3 -5 0.4 0.8 0.3 2.5 0.3 -1 0.4 1.4 0.3 -2.9 0.3 -0.5 0.3 -1.7 0.4 1.4 0.3 0.2 0.3 -0.7 0.4 3.5 0.3 -1.9 0.3 -2.7 0.4 9 0.3 -6.6 0.3 -0.8 0.3 5 0.4 -0.1 0.3 -4.7 0.3 -0.6 0.4 0.9 0.3 4.3 0.3 -2.9 0.4 -0.9 0.3 -1.4 0.3 5.4 0.3 -5.2 0.4 2.1 0.3 -2.1 0.3 7.3 0.4 -0.7 0.3 -1.8 0.3 -2.2 0.4 1.7 0.3 -5.6 0.3 4.8 0.3 -3.3 0.4 0.1 0.3 1.2 0.3 0.8 0.4 1.9 0.3 0.2 0.3 -0.8 0.4 -2.5 0.3 -2.7 0.3 4.4 0.3 2.7 0.4 -4.3 0.3 -3.8 0.3 4.7 0.4 5.4 0.3 -3.4 0.3 -1.4 0.4 -1.1 0.3 2.6 0.3 -0.1 0.3 -2 0.4 1.2 0.3 0.3 0.3 -1.7 0.4 -1 0.3 2.6 0.3 1.7 0.4 -0.6 0.3 -0.3 0.3 0 0.3 4.3 0.4 -4.8 0.3 1.6 0.3 1.9 0.4 -3.9 0.3 0.5 0.3 1.6 0.4 1.3 0.3 -2.8 0.3 0.1 0.3 -0.5 0.4 -2.7 0.3 4.8 0.3 -2.8 0.4 -3.1 0.3 3.3 0.3 -3.3 0.4 1.6 0.3 2.1 0.3 -1.9 0.3 4.1 0.4 -5.3 0.3 3.7 0.3 0.6 0.4 1.9 0.3 -1.1 0.3 -1.5 0.4 -0.3 0.3 -0.3 0.3 2.6 0.3 -3.8 0.4 2.5 0.3 -1.3 0.3 0.7 0.4 -1 0.3 5 0.3 -5.8 0.4 1.9 0.3 0.1 0.3 0.7 0.3 -0.4 0.4 0 0.3 1.2 0.3 -5.2 0.4 3.2 0.3 -2.7 0.3 3.1 0.4 -2.9 0.3 0.5 0.3 1.9 0.3 3 0.4 -1.7 0.3 -0.6 0.3 2.4 0.4 -5 0.3 -2.4 0.3 3.6 0.4 0.3 0.3 3.2 0.3 1.9 0.3 -7.3 0.4 8.1 0.3 -1.9 0.3 -1.6 0.4 -1 0.3 4.4 0.3 -4.9 0.4 -1.2 0.3 1.3 0.3 -9.2 0.3 9.9 0.4 -1.2 0.3 1 0.3 0 0.4 -3 0.3 5.1 0.3 -5 0.4 4.1 0.3 -5.3 0.3 4.2 0.3 -2.5 0.4 1.9 0.3 -1.5 0.3 -3.3 0.4 2.3 0.3 2.6 0.3 1.2 0.4 -4.5 0.3 -1.4 0.3 2.7 0.3 1.4 0.4 -0.9 0.3 -0.3 0.3 3.6 0.4 0.2 0.3 -0.4 0.3 -3.6 0.4 2.2 0.3 -0.6 0.3 -2.7 0.3 5 0.4 -1.7 0.3 -1.2 0.3 4.1 0.4 -1.4 0.3 0.3 0.3 0.7 0.4 -1 0.3 -4.3 0.3 1.9 0.3 3.1 0.4 -3.9 0.3 1.8 0.3 0.8 0.4 2.3 0.3 -0.3 0.3 -0.9 0.4 -2.3 0.3 2.4 0.3 -0.9 0.3 -1.4 0.4 3.3 0.3 -1.9 0.3 -2.7 0.4 4.4 0.3 -3.3 0.3 1.9 0.4 -4.6 0.3 3.3 0.3 -2 0.3 -0.1 0.4 -2 0.3 8.8 0.3 -5 0.4 0.9 0.3 1.9 0.3 -2.7 0.4 -1.8 0.3 -0.8 0.3 3.4 0.3 -1.3 0.4 2 0.3 -0.7 0.3 -3.4 0.4 -1 0.3 1.8 0.3 3.8 0.4 -0.7 0.3 0 0.3 -5.2 0.3 -1.5 0.4 4.5 0.3 0.6 0.3 -0.5 0.4 2.1 0.3 -1.2 0.3 -2.2 0.4 0.7 0.3 2.2 0.3 -0.1 0.3 -0.3 0.4 5.1 0.3 -5.5 0.3 0.8 0.4 -2.4 0.3 1.4 0.3 1.9 0.4 0.1 0.3 -1.6 0.3 1.2 0.3 -0.7 0.4 -4.2 0.3 -3 0.3 12.1 0.4 -3.2 0.3 -1.9 0.3 -3.7 0.4 1.1 0.3 5.7 0.3 -9 0.3 5.3 0.4 2.6 0.3 -1.5 0.3 1.3 0.4 -1.9 0.3 5.5 0.3 -7.5 0.4 -0.7 0.3 3.6 0.3 2.5 0.3 -3.2 0.4 2.4 0.3 -3.4 0.3 -1.5 0.4 5.7 0.3 0.3 0.3 0 0.4 -4.3 0.3 -1.6 0.3 0 0.3 2.1 0.4 1.7 0.3 -0.1 0.3 -4.2 0.4 3.5 0.3 -0.4 0.3 0.2 0.4 -0.3 0.3 -0.3 0.3 1.7 0.3 -5.6 0.4 4.8 0.3 -2 0.3 2.4 0.4 -1.1 0.3 -4.3 0.3 5.6 0.4 -1.6 0.3 2.6 0.3 -2.4 0.3 -6.8 0.4 7.7 0.3 -0.5 0.3 -0.9 0.4 -3 0.3 8 0.3 -7.5 0.4 2.7 0.3 2.2 0.3 -0.6 0.3 0.5 0.4 0.4 0.3 1.1 0.3 -2.1 0.4 5.7 0.3 -8.5 0.3 2.7 0.4 -1.3 0.3 -0.3 0.3 1.8 0.3 2.5 0.4 -4.6 0.3 0 0.3 3.1 0.4 -0.4 0.3 3.1 0.3 -2 0.4 -1.7 0.3 -1.2 0.3 1.2 0.3 -0.8 0.4 -2.6 0.3 3 0.3 -0.4 0.4 -0.1 0.3 -0.4 0.3 4.7 0.4 -2.2 0.3 0.6 0.3 -3.4 0.3 -0.9 0.4 1.7 0.3 1.1 0.3 -1.2 0.4 0.3 0.3 -2.1 0.3 -1.8 0.4 2.3 0.3 1.2 0.3 -0.5 0.3 1.8 0.4 -2.9 0.3 2.2 0.3 1.9 0.4 -1.4 0.3 -2 0.3 0.6 0.4 1.6 0.3 0.8 0.3 0.8 0.3 -2.1 0.4 -2.5 0.3 6 0.3 -2.5 0.4 0.3 0.3 -0.2 0.3 -2.9 0.4 1.5 0.3 1.3 0.3 1.7 0.3 -7.7 0.4 -1.3 0.3 6.3 0.3 1.3 0.4 2 0.3 -1.2 0.3 3.9 0.4 -2.4 0.3 -0.1 0.3 -0.9 0.3 -5 0.4 4.8 0.3 -0.5 0.3 -2.4 0.4 2.4 0.3 -0.3 0.3 -2 0.4 0.8 0.3 -0.3 0.3 1.1 0.3 -1.4 0.4 2.1 0.3 -5.3 0.3 3.5 0.4 -3 0.3 2.6 0.3 2.2 0.4 -1.1 0.3 -0.2 0.3 0.4 0.3 3.2 0.4 -5.8 0.3 4.4 0.3 -5.2 0.4 2.2 0.3 1.4 0.3 -2.2 0.4 2.3 0.3 1.2 0.3 -4.2 0.3 2.5 0.4 -0.7 0.3 -3.4 0.3 3.9 0.4 -1.4 0.3 4.7 0.3 -4.8 0.4 -1.3 0.3 2.1 0.3 5.3 0.3 -3 0.4 -0.2 0.3 0.8 0.3 0.2 0.4 1.1 0.3 0.8 0.3 -4.6 0.4 -1.9 0.3 -3.1 0.3 5 0.3 2.5 0.4 -0.8 0.3 -0.6 0.3 -1 0.4 -0.6 0.3 0.8 0.3 1.4 0.4 -4.6 0.3 5.4 0.3 -4.8 0.3 2.9 0.4 -1 0.3 0.5 0.3 -1.4 0.4 -0.3 0.3 -4.6 0.3 4.8 0.4 7.7 0.3 -6.2 0.3 -0.5 0.3 0.2 0.4 -1.1 0.3 -3 0.3 4.8 0.4 1.2 0.3 -3.9 0.3 -7.7 0.4 8.3 0.3 -1 0.3 4.5 0.3 0.2 0.4 -0.1 0.3 -2.4 0.3 3.4 0.4 -2.9 0.3 1.8 0.3 0.8 0.4 -2.2 0.3 -2.2 0.3 4.2 0.3 -3.8 0.4 0.5 0.3 -0.4 0.3 4.2 0.4 -2.2 0.3 -4.5 0.3 6.5 0.4 2.9 0.3 -0.6 0.3 -5.1 0.3 1.4 0.4 0.9 0.3 0.9 0.3 -1.9 0.4 -2.4 0.3 4 0.3 -0.3 0.4 -4.2 0.3 2.1 0.3 1.4 0.3 -5 0.4 5.5 0.3 0.6 0.3 -0.5 0.4 -1.4 0.3 -2.7 0.3 4.3 0.4 1.7 0.3 1.2 0.3 -4.3 0.3 0 0.4 3.2 0.3 0 0.3 -2.4 0.4 0.8 0.3 -3.2 0.3 2.9 0.4 -3 0.3 1.5 0.3 0 0.3 -0.7 0.4 -3.6 0.3 -2.2 0.3 7.5 0.4 -0.8 0.3 -0.7 0.3 1.8 0.4 0.5 0.3 0.4 0.3 -3.6 0.3 1.8 0.4 -0.8 0.3 -1.1 0.3 -1.4 0.4 3.1 0.3 -1.7 0.3 6.6 0.4 -4.9 0.3 -0.3 0.3 -0.4 0.3 5 0.4 -6.1 0.3 1.7 0.3 -1.4 0.4 1.5 0.3 0.2 0.3 2.4 0.4 -5.4 0.3 3 0.3 3.6 0.3 -4.6 0.4 0.7 0.3 -1.6 0.3 -3.7 0.4 5.5 0.3 2.8 0.3 -3.6 0.4 -3 0.3 4.6 0.3 -0.4 0.3 2 0.4 -0.2 0.3 -2.6 0.3 1.5 0.4 -4.8 0.3 6.4 0.3 -2 0.4 1.9 0.3 0 0.3 -2.9 0.3 0.3 0.4 -1.6 0.3 -2.6 0.3 4.2 0.4 0.6 0.3 -2.6 0.3 3.9 0.4 -1.4 0.3 0.8 0.3 -2.6 0.3 -2.2 0.4 5.5 0.3 -0.3 0.3 -1.6 0.4 -0.6 0.3 0.3 0.3 0.3 0.4 -0.8 0.3 -3.3 0.3 6.1 0.3 -4.9 0.4 2.5 0.3 0 0.3 1.3 0.4 -4.1 0.3 6.2 0.3 -1.2 0.4 0.2 0.3 1.1 0.3 -4.5 0.3 -5 0.4 7.5 0.3 -2.7 0.3 4.5 0.4 -3.7 0.3 1 0.3 0.8 0.4 -4.5 0.3 2.5 0.3 0.1 0.3 4.8 0.4 -4.9 0.3 4.9 0.3 -3.4 0.4 -3.7 0.3 8.5 0.3 -6.9 0.4 3.4 0.3 2.4 0.3 -4.9 0.3 -1.5 0.4 5 0.3 -2.1 0.3 -2.8 0.4 0.3 0.3 1.5 0.3 3 0.4 -2.8 0.3 2.1 0.3 2.2 0.3 -0.9 0.4 0.4 0.3 -0.4 0.3 -15.2 0.4 15.2 0.3 -2 0.3 -1 0.4 -2 0.3 -1.1 0.3 1 0.3 2.4 0.4 -2.5 0.3 0.8 0.3 0.4 0.4 2.8 0.3 -2.1 0.3 0.4 0.4 3.2 0.3 -3.6 0.3 2 0.3 -3.6 0.4 3 0.3 -0.4 0.3 0.1 0.4 -1.4 0.3 -1.2 0.3 1.6 0.4 -0.4 0.3 3.3 0.3 -0.2 0.3 -4.6 0.4 4 0.3 -2.4 0.3 2 0.4 -2 0.3 -2.2 0.3 5.4 0.4 -1.2 0.3 -3.6 0.3 -1.5 0.3 3 0.4 -1.4 0.3 1.8 0.3 2.1 0.4 1.9 0.3 -4 0.3 3.8 0.4 -0.4 0.3 -3.5 0.3 -2.7 0.3 5.5 0.4 -0.5 0.3 3.8 0.3 -2 0.4 -1.4 0.3 2 0.3 -5.9 0.4 2.7 0.3 -1 0.3 4.4 0.3 -2.6 0.4 -7.9 0.3 9.7 0.3 -5 0.4 3.7 0.3 -2.7 0.3 1.6 0.4 0.9 0.3 -1 0.3 -2.5 0.3 5.2 0.4 -2.2 0.3 -0.9 0.3 1.6 0.4 -2.7 0.3 5.3 0.3 -3.6 0.4 0.3 0.3 0 0.3 -2.8 0.3 -0.5 0.4 3 0.3 0.3 0.3 2.2 0.4 -1.9 0.3 -3.4 0.3 3.6 0.4 0.6 0.3 0.4 0.3 -1.4 0.3 -3.4 0.4 5.2 0.3 -4.1 0.3 2.8 0.4 -4.6 0.3 5.1 0.3 -3.4 0.4 4.1 0.3 1.5 0.3 -1.3 0.3 -5.1 0.4 0.5 0.3 0.2 0.3 3.3 0.4 -6.6 0.3 5.6 0.3 0.3 0.4 0.6 0.3 0.2 0.3 2.2 0.3 -3.7 0.4 0.5 0.3 -4.4 0.3 1.1 0.4 1.4 0.3 -1.1 0.3 3.1 0.4 1.8 0.3 -3.2 0.3 -0.1 0.3 -0.1 0.4 1.4 0.3 -1.4 0.3 2.1 0.4 -0.3 0.3 0.1 0.3 -5.1 0.4 4.5 0.3 0.2 0.3 -1.3 0.3 0.9 0.4 1.9 0.3 -1.6 0.3 -1.2 0.4 0.1 0.3 -0.8 0.3 1.8 0.4 -1.3 0.3 0.4 0.3 3.5 0.3 -2.9 0.4 2.8 0.3 -1.9 0.3 1.3 0.4 -3.2 0.3 1.6 0.3 5.5 0.4 -4 0.3 0.4 0.3 -1.6 0.3 1.3 0.4 -4.4 0.3 0.7 0.3 2.8 0.4 0.9 0.3 -2.7 0.3 0.5 0.4 -0.4 0.3 0.4 0.3 -2.2 0.3 -0.5 0.4 2.9 0.3 -3.6 0.3 1.7 0.4 0.7 0.3 -6.9 0.3 8.8 0.4 -1.4 0.3 0.8 0.3 -2.1 0.3 0.6 0.4 2.8 0.3 -0.4 0.3 -1.8 0.4 1.8 0.3 -0.3 0.3 -0.1 0.4 3.1 0.3 -4.3 0.3 1.8 0.3 0 0.4 -1.4 0.3 -2 0.3 4 0.4 -0.9 0.3 -0.5 0.3 -0.1 0.4 0 0.3 -1.9 0.3 2.5 0.3 -4.5 0.4 3.9 0.3 -3.2 0.3 2.5 0.4 2.3 0.3 -5.4 0.3 2.8 0.4 2.1 0.3 -1.6 0.3 -3.1 0.3 2.8 0.4 4.1 0.3 -1.8 0.3 -0.4 0.4 -3.6 0.3 3.9 0.3 -4.1 0.4 3.8 0.3 -3.4 0.3 6.6 0.3 -7.9 0.4 6.4 0.3 -1 0.3 -5.6 0.4 3.4 0.3 3.7 0.3 -0.7 0.4 -6.1 0.3 2.5 0.3 -1.4 0.3 0.3 0.4 0.9 0.3 5.4 0.3 -3.7 0.4 -0.8 0.3 -0.3 0.3 2.2 0.4 0.1 0.3 -3.5 0.3 5.2 0.3 -5.5 0.4 1.7 0.3 1.6 0.3 2.8 0.4 -4.5 0.3 1.4 0.3 2.2 0.4 -1.5 0.3 -10.9 0.3 11.8 0.3 -1.7 0.4 -8.1 0.3 9.6 0.3 -2.1 0.4 3.6 0.3 -7.8 0.3 2.3 0.4 5.2 0.3 -2.2 0.3 -2.3" stroke="#000" stroke-width="1.55" fill="none" stroke-linejoin="round"/>
</svg>
</body></html>
